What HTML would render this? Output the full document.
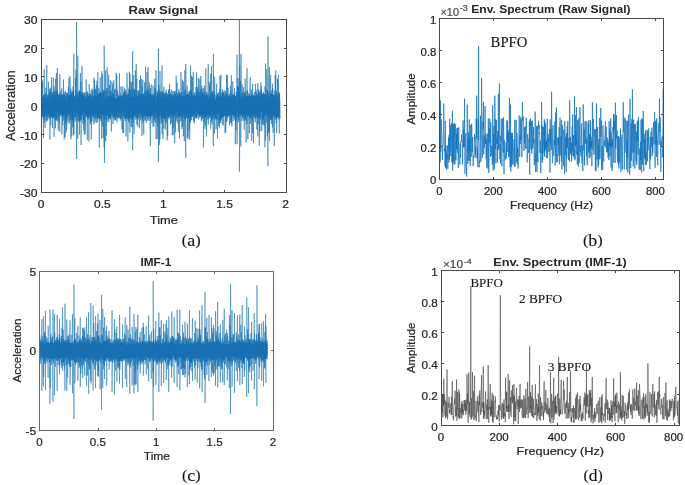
<!DOCTYPE html>
<html><head><meta charset="utf-8"><title>Signal plots</title>
<style>html,body{margin:0;padding:0;background:#fff;}svg{display:block;}</style></head>
<body><svg width="685" height="485" viewBox="0 0 685 485">
<rect width="685" height="485" fill="#ffffff"/>
<clipPath id="ca"><rect x="41.6" y="19.3" width="244.4" height="172.79999999999998"/></clipPath>
<polyline points="41.75,119.85 41.75,81.33 42.05,95.08 42.05,113.91 42.35,116.28 42.35,97.61 42.65,80.54 42.65,116.50 42.95,117.00 42.95,98.05 43.25,96.92 43.25,115.05 43.55,138.24 43.55,94.96 43.85,94.95 43.85,116.90 44.15,122.96 44.15,68.88 44.45,96.56 44.45,119.57 44.75,114.16 44.75,97.19 45.05,92.78 45.05,127.88 45.35,116.03 45.35,93.72 45.65,98.55 45.65,115.78 45.95,116.33 45.95,87.79 46.25,97.75 46.25,115.29 46.55,120.67 46.55,95.57 46.85,65.19 46.85,121.54 47.15,116.72 47.15,102.77 47.45,94.75 47.45,116.64 47.75,120.35 47.75,100.02 48.05,95.31 48.05,113.78 48.35,114.55 48.35,81.61 48.65,92.26 48.65,114.17 48.95,117.96 48.95,95.19 49.25,92.10 49.25,119.03 49.55,116.72 49.55,97.28 49.85,88.58 49.85,139.54 50.15,116.85 50.15,90.39 50.45,92.50 50.45,114.94 50.75,125.41 50.75,87.60 51.05,99.01 51.05,117.03 51.35,117.69 51.35,93.65 51.65,77.20 51.65,115.67 51.95,117.47 51.95,94.97 52.25,92.75 52.25,116.23 52.55,128.04 52.55,95.78 52.85,92.38 52.85,113.46 53.15,117.76 53.15,92.68 53.45,78.02 53.45,118.21 53.75,115.67 53.75,98.32 54.05,86.00 54.05,136.66 54.35,118.74 54.35,94.94 54.65,90.71 54.65,113.59 54.95,119.35 54.95,96.11 55.25,91.36 55.25,115.53 55.55,128.38 55.55,78.99 55.85,90.62 55.85,119.40 56.15,114.84 56.15,93.16 56.45,72.99 56.45,120.46 56.75,112.17 56.75,91.61 57.05,91.34 57.05,114.84 57.35,121.20 57.35,68.07 57.65,94.09 57.65,114.83 57.95,117.72 57.95,98.58 58.25,94.15 58.25,130.44 58.55,117.13 58.55,94.78 58.85,99.13 58.85,117.03 59.15,122.45 59.15,98.06 59.45,93.60 59.45,114.86 59.75,131.70 59.75,74.21 60.05,93.80 60.05,114.30 60.35,116.54 60.35,97.42 60.65,91.50 60.65,112.48 60.95,113.81 60.95,95.06 61.25,94.07 61.25,115.95 61.55,114.11 61.55,97.49 61.85,88.32 61.85,134.32 62.15,115.02 62.15,96.61 62.45,94.48 62.45,118.28 62.75,125.52 62.75,94.58 63.05,95.53 63.05,117.42 63.35,120.65 63.35,79.62 63.65,96.30 63.65,115.73 63.95,114.65 63.95,92.06 64.25,93.61 64.25,139.43 64.55,114.18 64.55,94.48 64.85,98.62 64.85,114.69 65.15,137.26 65.15,93.41 65.45,90.68 65.45,113.43 65.75,124.02 65.75,97.11 66.05,100.33 66.05,132.55 66.35,119.33 66.35,92.52 66.65,95.76 66.65,129.97 66.95,116.73 66.95,94.54 67.25,93.21 67.25,117.64 67.55,115.23 67.55,96.67 67.85,92.85 67.85,121.62 68.15,114.06 68.15,96.28 68.45,86.66 68.45,115.03 68.75,114.35 68.75,88.86 69.05,78.38 69.05,123.66 69.35,115.36 69.35,95.02 69.65,95.53 69.65,117.32 69.95,122.22 69.95,76.18 70.25,91.07 70.25,119.84 70.55,116.71 70.55,96.26 70.85,88.86 70.85,139.31 71.15,120.75 71.15,91.24 71.45,93.77 71.45,112.18 71.75,136.49 71.75,93.10 72.05,94.06 72.05,118.75 72.35,120.48 72.35,92.28 72.65,91.40 72.65,127.31 72.95,122.71 72.95,86.51 73.25,92.49 73.25,121.05 73.55,135.35 73.55,89.93 73.85,53.92 73.85,133.98 74.15,109.49 74.15,96.79 74.45,98.24 74.45,114.64 74.75,117.04 74.75,95.99 75.05,95.67 75.05,118.73 75.35,121.36 75.35,77.98 75.65,90.06 75.65,117.16 75.95,112.85 75.95,69.56 76.25,93.38 76.25,119.50 76.55,158.98 76.55,22.18 76.85,99.65 76.85,110.08 77.15,119.82 77.15,94.83 77.45,93.38 77.45,119.95 77.75,138.73 77.75,55.69 78.05,96.97 78.05,116.92 78.35,110.80 78.35,100.58 78.65,92.48 78.65,121.88 78.95,120.68 78.95,90.61 79.25,95.56 79.25,116.65 79.55,134.75 79.55,90.51 79.85,92.43 79.85,121.25 80.15,121.18 80.15,96.29 80.45,73.03 80.45,119.29 80.75,115.53 80.75,93.91 81.05,81.59 81.05,145.01 81.35,115.50 81.35,91.69 81.65,93.75 81.65,117.09 81.95,119.91 81.95,66.03 82.25,93.11 82.25,112.82 82.55,114.53 82.55,98.73 82.85,93.51 82.85,123.76 83.15,116.55 83.15,92.00 83.45,96.42 83.45,113.46 83.75,130.16 83.75,95.96 84.05,94.46 84.05,118.21 84.35,134.71 84.35,92.93 84.65,98.40 84.65,122.23 84.95,114.34 84.95,96.08 85.25,92.19 85.25,134.12 85.55,112.75 85.55,96.86 85.85,98.38 85.85,114.74 86.15,116.24 86.15,79.50 86.45,98.51 86.45,116.23 86.75,115.48 86.75,95.11 87.05,93.29 87.05,117.20 87.35,139.80 87.35,91.31 87.65,93.59 87.65,117.89 87.95,119.47 87.95,96.07 88.25,93.61 88.25,118.65 88.55,116.78 88.55,95.97 88.85,97.78 88.85,141.43 89.15,114.76 89.15,84.14 89.45,93.29 89.45,117.26 89.75,117.37 89.75,99.37 90.05,93.71 90.05,115.64 90.35,122.88 90.35,94.72 90.65,94.35 90.65,119.18 90.95,124.42 90.95,93.20 91.25,90.25 91.25,139.33 91.55,122.08 91.55,96.36 91.85,98.79 91.85,117.46 92.15,120.96 92.15,88.65 92.45,97.59 92.45,114.23 92.75,114.35 92.75,96.59 93.05,89.68 93.05,115.08 93.35,118.03 93.35,96.08 93.65,98.34 93.65,117.18 93.95,124.45 93.95,77.67 94.25,93.54 94.25,116.24 94.55,116.66 94.55,80.47 94.85,96.54 94.85,122.28 95.15,115.76 95.15,88.63 95.45,89.80 95.45,119.18 95.75,114.49 95.75,95.69 96.05,99.25 96.05,119.17 96.35,123.01 96.35,85.13 96.65,95.26 96.65,115.70 96.95,117.76 96.95,80.68 97.25,94.10 97.25,118.09 97.55,121.90 97.55,95.51 97.85,72.31 97.85,118.41 98.15,115.34 98.15,93.65 98.45,93.90 98.45,118.13 98.75,117.14 98.75,88.34 99.05,92.31 99.05,117.30 99.35,147.46 99.35,94.08 99.65,93.43 99.65,119.94 99.95,114.47 99.95,95.08 100.25,77.43 100.25,118.73 100.55,114.03 100.55,91.71 100.85,93.74 100.85,121.20 101.15,118.13 101.15,92.82 101.45,92.40 101.45,124.73 101.75,138.57 101.75,71.24 102.05,100.20 102.05,110.19 102.35,126.41 102.35,74.64 102.65,92.48 102.65,114.88 102.95,115.30 102.95,91.35 103.25,96.48 103.25,137.92 103.55,121.32 103.55,90.20 103.85,92.65 103.85,118.10 104.15,147.46 104.15,45.57 104.45,75.21 104.45,163.04 104.75,110.71 104.75,101.83 105.05,91.08 105.05,119.81 105.35,115.94 105.35,92.03 105.65,70.33 105.65,141.41 105.95,111.24 105.95,101.06 106.25,92.09 106.25,114.99 106.55,135.52 106.55,88.14 106.85,96.39 106.85,115.52 107.15,121.83 107.15,67.53 107.45,98.20 107.45,115.12 107.75,113.87 107.75,95.70 108.05,88.43 108.05,119.85 108.35,118.81 108.35,99.21 108.65,74.66 108.65,117.75 108.95,121.97 108.95,96.31 109.25,98.60 109.25,118.15 109.55,118.54 109.55,84.95 109.85,85.38 109.85,117.38 110.15,118.97 110.15,91.13 110.45,80.16 110.45,119.45 110.75,115.05 110.75,95.60 111.05,95.99 111.05,113.39 111.35,131.36 111.35,90.90 111.65,97.45 111.65,111.29 111.95,115.59 111.95,81.72 112.25,93.51 112.25,116.86 112.55,113.65 112.55,91.73 112.85,84.19 112.85,124.04 113.15,119.27 113.15,93.91 113.45,94.62 113.45,112.67 113.75,118.90 113.75,80.27 114.05,97.02 114.05,117.24 114.35,114.77 114.35,95.99 114.65,89.59 114.65,120.33 114.95,115.45 114.95,99.39 115.25,88.89 115.25,117.38 115.55,120.42 115.55,98.78 115.85,98.18 115.85,119.81 116.15,116.02 116.15,72.72 116.45,96.63 116.45,116.37 116.75,117.81 116.75,74.98 117.05,97.81 117.05,122.21 117.35,112.44 117.35,90.72 117.65,98.82 117.65,118.31 117.95,116.22 117.95,94.17 118.25,97.56 118.25,114.27 118.55,117.58 118.55,95.92 118.85,96.95 118.85,113.62 119.15,118.28 119.15,95.84 119.45,73.30 119.45,118.10 119.75,113.14 119.75,96.54 120.05,96.50 120.05,114.96 120.35,120.51 120.35,92.76 120.65,95.67 120.65,112.47 120.95,118.98 120.95,86.32 121.25,92.05 121.25,116.77 121.55,118.75 121.55,98.37 121.85,96.01 121.85,129.16 122.15,111.51 122.15,95.26 122.45,96.96 122.45,116.69 122.75,133.11 122.75,86.39 123.05,93.71 123.05,116.61 123.35,115.88 123.35,95.16 123.65,93.56 123.65,132.78 123.95,110.88 123.95,91.75 124.25,91.90 124.25,109.59 124.55,118.10 124.55,88.37 124.85,94.65 124.85,114.14 125.15,119.19 125.15,98.27 125.45,89.73 125.45,120.94 125.75,112.89 125.75,93.74 126.05,91.45 126.05,136.50 126.35,119.10 126.35,94.75 126.65,96.15 126.65,118.07 126.95,114.84 126.95,72.74 127.25,97.64 127.25,119.09 127.55,115.47 127.55,93.99 127.85,94.69 127.85,141.35 128.15,119.40 128.15,97.15 128.45,93.39 128.45,119.63 128.75,120.99 128.75,96.42 129.05,87.45 129.05,118.01 129.35,123.07 129.35,71.70 129.65,89.73 129.65,118.32 129.95,132.76 129.95,73.89 130.25,93.74 130.25,118.89 130.55,110.47 130.55,99.48 130.85,89.76 130.85,116.43 131.15,126.79 131.15,81.91 131.45,97.01 131.45,119.50 131.75,117.94 131.75,96.22 132.05,81.91 132.05,127.59 132.35,116.72 132.35,87.36 132.65,51.26 132.65,150.21 132.95,112.99 132.95,99.25 133.25,97.57 133.25,122.60 133.55,116.76 133.55,75.05 133.85,75.20 133.85,118.96 134.15,134.27 134.15,88.89 134.45,99.93 134.45,115.08 134.75,117.12 134.75,91.05 135.05,97.58 135.05,113.02 135.35,115.17 135.35,70.40 135.65,94.55 135.65,119.66 135.95,116.79 135.95,95.55 136.25,63.94 136.25,118.57 136.55,113.07 136.55,94.68 136.85,78.85 136.85,124.62 137.15,118.12 137.15,90.93 137.45,95.37 137.45,114.22 137.75,126.71 137.75,96.66 138.05,95.98 138.05,119.60 138.35,118.13 138.35,90.00 138.65,92.50 138.65,115.24 138.95,113.61 138.95,94.15 139.25,92.40 139.25,114.73 139.55,128.27 139.55,80.13 139.85,95.22 139.85,112.03 140.15,117.06 140.15,97.51 140.45,75.45 140.45,120.48 140.75,115.07 140.75,97.40 141.05,93.94 141.05,113.09 141.35,117.08 141.35,78.99 141.65,93.25 141.65,118.41 141.95,136.17 141.95,90.19 142.25,86.41 142.25,119.50 142.55,117.04 142.55,94.99 142.85,79.85 142.85,122.82 143.15,118.21 143.15,97.38 143.45,93.81 143.45,115.99 143.75,134.53 143.75,93.70 144.05,94.51 144.05,117.41 144.35,115.03 144.35,95.87 144.65,82.39 144.65,120.58 144.95,114.50 144.95,95.89 145.25,91.73 145.25,113.72 145.55,119.35 145.55,66.62 145.85,95.95 145.85,115.98 146.15,122.78 146.15,89.32 146.45,96.27 146.45,112.92 146.75,116.05 146.75,94.93 147.05,72.13 147.05,120.40 147.35,121.07 147.35,93.53 147.65,86.47 147.65,116.32 147.95,119.42 147.95,67.24 148.25,85.02 148.25,117.91 148.55,114.15 148.55,92.11 148.85,90.08 148.85,116.71 149.15,120.80 149.15,94.46 149.45,82.69 149.45,115.97 149.75,116.74 149.75,94.05 150.05,91.99 150.05,116.63 150.35,146.43 150.35,88.15 150.65,97.25 150.65,119.48 150.95,114.57 150.95,96.18 151.25,84.69 151.25,115.10 151.55,116.23 151.55,94.43 151.85,98.96 151.85,123.37 152.15,122.46 152.15,96.48 152.45,95.21 152.45,116.24 152.75,114.98 152.75,94.10 153.05,85.46 153.05,127.11 153.35,113.86 153.35,94.38 153.65,95.18 153.65,117.19 153.95,126.30 153.95,93.55 154.25,95.84 154.25,119.75 154.55,117.45 154.55,93.47 154.85,78.80 154.85,121.82 155.15,121.51 155.15,88.59 155.45,88.12 155.45,114.52 155.75,122.68 155.75,96.66 156.05,69.99 156.05,139.40 156.35,112.11 156.35,102.26 156.65,96.70 156.65,117.59 156.95,116.68 156.95,90.79 157.25,94.34 157.25,138.98 157.55,120.69 157.55,93.92 157.85,92.34 157.85,126.07 158.15,120.60 158.15,94.03 158.45,48.78 158.45,161.86 158.75,128.90 158.75,84.79 159.05,100.30 159.05,109.09 159.35,145.00 159.35,92.98 159.65,88.99 159.65,116.91 159.95,139.16 159.95,71.14 160.25,98.25 160.25,110.09 160.55,114.87 160.55,92.50 160.85,95.80 160.85,119.46 161.15,123.95 161.15,91.60 161.45,95.10 161.45,119.06 161.75,121.82 161.75,94.59 162.05,65.36 162.05,134.07 162.35,116.24 162.35,91.20 162.65,93.22 162.65,118.03 162.95,138.90 162.95,91.31 163.25,93.41 163.25,116.98 163.55,118.57 163.55,93.72 163.85,86.65 163.85,128.43 164.15,118.20 164.15,96.91 164.45,93.26 164.45,119.34 164.75,117.31 164.75,94.80 165.05,96.87 165.05,114.60 165.35,129.33 165.35,91.84 165.65,95.92 165.65,121.37 165.95,114.88 165.95,91.97 166.25,89.58 166.25,123.36 166.55,115.74 166.55,93.56 166.85,94.72 166.85,115.80 167.15,140.29 167.15,97.92 167.45,94.89 167.45,114.72 167.75,135.99 167.75,92.97 168.05,96.73 168.05,116.59 168.35,114.58 168.35,98.18 168.65,89.38 168.65,119.30 168.95,117.69 168.95,96.07 169.25,89.74 169.25,117.47 169.55,111.24 169.55,83.92 169.85,96.42 169.85,116.48 170.15,115.28 170.15,92.40 170.45,93.82 170.45,124.65 170.75,113.88 170.75,96.44 171.05,94.98 171.05,118.21 171.35,123.03 171.35,89.40 171.65,91.91 171.65,112.73 171.95,118.76 171.95,94.59 172.25,94.86 172.25,135.51 172.55,114.02 172.55,95.10 172.85,91.04 172.85,118.31 173.15,135.06 173.15,99.42 173.45,95.08 173.45,116.92 173.75,127.82 173.75,91.23 174.05,97.58 174.05,115.02 174.35,116.12 174.35,98.67 174.65,90.93 174.65,143.31 174.95,113.20 174.95,98.60 175.25,93.96 175.25,132.26 175.55,120.50 175.55,91.60 175.85,94.64 175.85,119.89 176.15,120.89 176.15,75.56 176.45,98.03 176.45,113.34 176.75,118.85 176.75,90.24 177.05,82.47 177.05,112.07 177.35,123.10 177.35,99.40 177.65,92.99 177.65,115.00 177.95,116.95 177.95,96.26 178.25,98.82 178.25,123.16 178.55,131.62 178.55,95.43 178.85,88.73 178.85,115.45 179.15,116.39 179.15,91.54 179.45,93.33 179.45,138.23 179.75,117.31 179.75,95.27 180.05,95.28 180.05,121.44 180.35,118.20 180.35,93.05 180.65,95.45 180.65,115.69 180.95,114.46 180.95,71.85 181.25,93.14 181.25,116.36 181.55,120.75 181.55,91.98 181.85,95.33 181.85,129.05 182.15,114.62 182.15,96.59 182.45,79.84 182.45,126.64 182.75,125.66 182.75,96.48 183.05,95.68 183.05,114.49 183.35,136.19 183.35,81.59 183.65,102.96 183.65,110.92 183.95,118.00 183.95,91.72 184.25,91.67 184.25,141.12 184.55,116.88 184.55,96.10 184.85,70.13 184.85,119.15 185.15,120.26 185.15,89.54 185.45,95.62 185.45,118.72 185.75,157.80 185.75,63.94 186.05,96.64 186.05,118.33 186.35,114.14 186.35,96.84 186.65,94.10 186.65,117.97 186.95,114.73 186.95,90.01 187.25,85.59 187.25,138.73 187.55,108.61 187.55,102.03 187.85,94.19 187.85,116.99 188.15,138.12 188.15,91.47 188.45,94.31 188.45,118.91 188.75,117.60 188.75,95.31 189.05,96.39 189.05,130.93 189.35,117.09 189.35,91.70 189.65,94.91 189.65,139.91 189.95,121.66 189.95,90.26 190.25,93.40 190.25,121.17 190.55,122.36 190.55,65.49 190.85,89.94 190.85,117.32 191.15,116.24 191.15,97.55 191.45,75.71 191.45,119.91 191.75,117.23 191.75,92.82 192.05,98.27 192.05,114.78 192.35,116.87 192.35,76.90 192.65,93.01 192.65,114.93 192.95,116.14 192.95,96.43 193.25,71.81 193.25,120.50 193.55,117.42 193.55,95.75 193.85,95.23 193.85,115.03 194.15,123.33 194.15,92.67 194.45,94.39 194.45,121.87 194.75,111.83 194.75,94.05 195.05,92.05 195.05,112.18 195.35,117.69 195.35,99.08 195.65,96.44 195.65,115.73 195.95,117.51 195.95,87.23 196.25,92.20 196.25,118.67 196.55,117.95 196.55,72.33 196.85,96.56 196.85,112.77 197.15,118.02 197.15,91.10 197.45,87.20 197.45,115.59 197.75,114.15 197.75,90.28 198.05,92.08 198.05,113.27 198.35,113.03 198.35,77.97 198.65,97.81 198.65,118.25 198.95,119.45 198.95,96.48 199.25,92.44 199.25,115.85 199.55,116.37 199.55,89.84 199.85,79.02 199.85,117.15 200.15,114.55 200.15,95.31 200.45,89.68 200.45,116.29 200.75,115.06 200.75,75.99 201.05,92.56 201.05,115.28 201.35,121.21 201.35,96.25 201.65,85.84 201.65,120.40 201.95,114.97 201.95,88.76 202.25,91.25 202.25,118.51 202.55,115.22 202.55,95.18 202.85,93.32 202.85,118.71 203.15,114.09 203.15,88.07 203.45,88.73 203.45,147.46 203.75,116.49 203.75,97.21 204.05,94.13 204.05,122.18 204.35,117.93 204.35,85.70 204.65,94.73 204.65,113.50 204.95,128.69 204.95,91.42 205.25,97.46 205.25,117.71 205.55,116.96 205.55,95.83 205.85,68.47 205.85,125.89 206.15,115.52 206.15,95.85 206.45,93.66 206.45,136.46 206.75,114.84 206.75,92.08 207.05,93.87 207.05,117.47 207.35,117.37 207.35,94.91 207.65,96.12 207.65,113.66 207.95,119.80 207.95,90.30 208.25,63.94 208.25,124.48 208.55,115.34 208.55,94.67 208.85,97.90 208.85,114.95 209.15,118.45 209.15,81.89 209.45,92.13 209.45,117.67 209.75,118.50 209.75,96.32 210.05,84.49 210.05,116.51 210.35,116.57 210.35,92.40 210.65,73.73 210.65,128.59 210.95,117.60 210.95,93.50 211.25,99.35 211.25,108.79 211.55,121.62 211.55,66.32 211.85,93.31 211.85,117.10 212.15,124.33 212.15,94.44 212.45,91.11 212.45,117.60 212.75,119.47 212.75,91.39 213.05,95.08 213.05,117.82 213.35,146.02 213.35,53.86 213.65,98.08 213.65,109.89 213.95,115.11 213.95,94.21 214.25,92.09 214.25,133.94 214.55,128.63 214.55,76.78 214.85,91.23 214.85,119.76 215.15,115.87 215.15,99.63 215.45,100.55 215.45,118.45 215.75,115.45 215.75,95.20 216.05,97.79 216.05,129.30 216.35,121.54 216.35,90.09 216.65,83.76 216.65,112.31 216.95,119.34 216.95,95.45 217.25,94.41 217.25,122.96 217.55,138.76 217.55,96.02 217.85,92.77 217.85,116.81 218.15,113.69 218.15,95.76 218.45,92.56 218.45,126.04 218.75,120.71 218.75,97.40 219.05,98.48 219.05,113.58 219.35,128.20 219.35,94.87 219.65,89.27 219.65,120.06 219.95,123.19 219.95,75.99 220.25,95.23 220.25,122.67 220.55,113.81 220.55,96.56 220.85,74.53 220.85,120.63 221.15,118.38 221.15,96.81 221.45,96.60 221.45,119.03 221.75,115.71 221.75,92.46 222.05,94.56 222.05,119.53 222.35,124.27 222.35,89.28 222.65,94.38 222.65,117.06 222.95,114.92 222.95,92.91 223.25,91.87 223.25,125.72 223.55,117.40 223.55,92.42 223.85,96.49 223.85,116.31 224.15,114.10 224.15,90.41 224.45,91.80 224.45,116.16 224.75,115.83 224.75,97.28 225.05,93.83 225.05,133.04 225.35,113.96 225.35,90.78 225.65,92.78 225.65,132.56 225.95,119.07 225.95,95.11 226.25,95.82 226.25,119.29 226.55,122.29 226.55,74.60 226.85,92.71 226.85,120.88 227.15,117.67 227.15,98.27 227.45,75.13 227.45,115.96 227.75,115.09 227.75,99.09 228.05,87.84 228.05,115.74 228.35,115.51 228.35,97.98 228.65,95.92 228.65,115.94 228.95,116.98 228.95,95.08 229.25,97.21 229.25,117.30 229.55,125.19 229.55,93.68 229.85,95.51 229.85,114.39 230.15,114.46 230.15,99.60 230.45,86.04 230.45,116.92 230.75,122.98 230.75,91.15 231.05,95.61 231.05,110.72 231.35,123.23 231.35,75.23 231.65,96.08 231.65,118.38 231.95,126.20 231.95,96.67 232.25,96.30 232.25,110.89 232.55,114.75 232.55,96.85 232.85,81.27 232.85,121.09 233.15,120.27 233.15,94.89 233.45,93.94 233.45,114.50 233.75,117.33 233.75,95.69 234.05,94.88 234.05,111.42 234.35,114.98 234.35,88.29 234.65,88.44 234.65,118.37 234.95,120.60 234.95,96.88 235.25,99.25 235.25,144.28 235.55,118.81 235.55,95.88 235.85,95.72 235.85,118.79 236.15,130.07 236.15,91.82 236.45,95.29 236.45,117.72 236.75,120.56 236.75,87.46 237.05,54.62 237.05,143.80 237.35,109.71 237.35,102.28 237.65,85.97 237.65,112.17 237.95,116.57 237.95,78.19 238.25,98.52 238.25,122.22 238.55,119.99 238.55,87.65 238.85,85.87 238.85,119.71 239.15,114.13 239.15,90.72 239.45,19.30 239.45,171.66 239.75,139.71 239.75,65.51 240.05,102.39 240.05,109.56 240.35,115.79 240.35,93.21 240.65,81.25 240.65,142.98 240.95,146.37 240.95,53.86 241.25,100.35 241.25,112.72 241.55,113.31 241.55,93.04 241.85,101.50 241.85,121.21 242.15,117.03 242.15,84.40 242.45,97.28 242.45,115.76 242.75,118.19 242.75,96.00 243.05,91.35 243.05,116.93 243.35,114.82 243.35,96.46 243.65,87.16 243.65,120.76 243.95,117.54 243.95,98.27 244.25,92.56 244.25,129.61 244.55,114.07 244.55,95.56 244.85,92.62 244.85,118.08 245.15,119.72 245.15,78.64 245.45,93.86 245.45,120.66 245.75,119.78 245.75,96.45 246.05,90.94 246.05,142.38 246.35,114.77 246.35,98.33 246.65,95.97 246.65,113.61 246.95,123.96 246.95,68.37 247.25,95.57 247.25,115.57 247.55,116.98 247.55,90.22 247.85,94.70 247.85,139.24 248.15,113.19 248.15,96.03 248.45,95.69 248.45,114.73 248.75,115.97 248.75,96.33 249.05,93.03 249.05,116.65 249.35,133.22 249.35,94.46 249.65,96.64 249.65,118.25 249.95,113.43 249.95,89.20 250.25,77.19 250.25,123.99 250.55,117.73 250.55,96.68 250.85,96.29 250.85,115.89 251.15,118.38 251.15,89.39 251.45,91.06 251.45,116.01 251.75,140.78 251.75,93.46 252.05,93.23 252.05,120.75 252.35,115.52 252.35,94.92 252.65,83.91 252.65,133.29 252.95,115.47 252.95,95.31 253.25,95.42 253.25,114.38 253.55,143.14 253.55,95.53 253.85,95.46 253.85,113.89 254.15,116.36 254.15,96.93 254.45,92.09 254.45,111.68 254.75,117.62 254.75,97.55 255.05,95.42 255.05,117.66 255.35,122.37 255.35,83.88 255.65,91.31 255.65,118.84 255.95,117.77 255.95,97.26 256.25,90.23 256.25,111.89 256.55,116.31 256.55,94.38 256.85,93.34 256.85,129.45 257.15,113.22 257.15,95.03 257.45,96.36 257.45,117.16 257.75,136.43 257.75,83.19 258.05,93.68 258.05,118.43 258.35,124.29 258.35,89.39 258.65,95.03 258.65,115.36 258.95,115.96 258.95,95.58 259.25,93.16 259.25,145.77 259.55,121.03 259.55,93.37 259.85,92.11 259.85,131.64 260.15,120.59 260.15,89.92 260.45,98.55 260.45,113.23 260.75,119.45 260.75,82.44 261.05,99.07 261.05,111.96 261.35,111.06 261.35,92.69 261.65,86.34 261.65,131.06 261.95,116.84 261.95,98.56 262.25,94.55 262.25,118.10 262.55,124.35 262.55,94.31 262.85,93.50 262.85,120.08 263.15,125.09 263.15,95.87 263.45,91.82 263.45,119.81 263.75,116.26 263.75,94.01 264.05,94.45 264.05,125.35 264.35,116.80 264.35,94.15 264.65,94.50 264.65,115.62 264.95,147.46 264.95,86.54 265.25,94.08 265.25,116.01 265.55,140.38 265.55,63.53 265.85,100.40 265.85,110.47 266.15,113.75 266.15,97.64 266.45,93.95 266.45,121.24 266.75,122.73 266.75,69.03 267.05,89.52 267.05,114.81 267.35,136.43 267.35,90.06 267.65,95.58 267.65,116.84 267.95,166.18 267.95,36.58 268.25,81.33 268.25,133.03 268.55,108.37 268.55,102.09 268.85,92.15 268.85,122.18 269.15,132.13 269.15,97.09 269.45,67.37 269.45,141.17 269.75,111.10 269.75,101.73 270.05,92.50 270.05,117.03 270.35,119.34 270.35,91.94 270.65,74.73 270.65,112.98 270.95,119.96 270.95,95.67 271.25,93.72 271.25,121.33 271.55,124.09 271.55,90.50 271.85,93.03 271.85,118.97 272.15,118.53 272.15,93.75 272.45,83.70 272.45,127.52 272.75,116.16 272.75,88.29 273.05,92.75 273.05,132.68 273.35,126.60 273.35,94.76 273.65,96.48 273.65,115.66 273.95,114.00 273.95,96.66 274.25,94.90 274.25,146.03 274.55,117.77 274.55,90.95 274.85,95.89 274.85,115.00 275.15,119.53 275.15,75.14 275.45,99.06 275.45,114.22 275.75,118.08 275.75,70.33 276.05,95.74 276.05,123.24 276.35,113.16 276.35,93.83 276.65,93.81 276.65,133.13 276.95,118.48 276.95,90.55 277.25,98.20 277.25,117.49 277.55,117.52 277.55,78.60 277.85,96.33 277.85,115.24 278.15,116.59 278.15,94.96 278.45,74.89 278.45,119.33 278.75,117.36 278.75,91.36 279.05,93.80 279.05,117.52 279.35,133.41 279.35,96.80 279.65,93.13 279.65,110.58 279.95,118.79 279.95,100.71" fill="none" stroke="#1670b1" stroke-width="0.55" stroke-linejoin="round" clip-path="url(#ca)"/>
<polygon points="41.60,97.61 42.60,97.61 42.60,96.92 43.60,96.92 43.60,95.73 44.60,95.73 44.60,97.19 45.60,97.19 45.60,97.75 46.60,97.75 46.60,98.32 47.60,98.32 47.60,99.69 48.60,99.69 48.60,95.19 49.60,95.19 49.60,92.50 50.60,92.50 50.60,99.01 51.60,99.01 51.60,94.97 52.60,94.97 52.60,92.68 53.60,92.68 53.60,94.94 54.60,94.94 54.60,96.60 55.60,96.60 55.60,90.62 56.60,90.62 56.60,91.61 57.60,91.61 57.60,94.78 58.60,94.78 58.60,98.06 59.60,98.06 59.60,96.49 60.60,96.49 60.60,95.06 61.60,95.06 61.60,96.61 62.60,96.61 62.60,95.53 63.60,95.53 63.60,94.48 64.60,94.48 64.60,95.28 65.60,95.28 65.60,100.33 66.60,100.33 66.60,95.76 67.60,95.76 67.60,96.28 68.60,96.28 68.60,95.02 69.60,95.02 69.60,95.53 70.60,95.53 70.60,93.77 71.60,93.77 71.60,94.06 72.60,94.06 72.60,91.40 73.60,91.40 73.60,98.24 74.60,98.24 74.60,95.67 75.60,95.67 75.60,90.06 76.60,90.06 76.60,99.65 77.60,99.65 77.60,96.97 78.60,96.97 78.60,92.48 79.60,92.48 79.60,92.43 80.60,92.43 80.60,93.91 81.60,93.91 81.60,93.75 82.60,93.75 82.60,96.42 83.60,96.42 83.60,95.96 84.60,95.96 84.60,98.40 85.60,98.40 85.60,98.38 86.60,98.38 86.60,94.41 87.60,94.41 87.60,96.07 88.60,96.07 88.60,95.97 89.60,95.97 89.60,96.03 90.60,96.03 90.60,94.35 91.60,94.35 91.60,98.79 92.60,98.79 92.60,96.59 93.60,96.59 93.60,96.40 94.60,96.40 94.60,89.80 95.60,89.80 95.60,95.69 96.60,95.69 96.60,95.78 97.60,95.78 97.60,93.90 98.60,93.90 98.60,94.08 99.60,94.08 99.60,93.43 100.60,93.43 100.60,93.28 101.60,93.28 101.60,99.56 102.60,99.56 102.60,93.61 103.60,93.61 103.60,90.20 104.60,90.20 104.60,98.33 105.60,98.33 105.60,96.91 106.60,96.91 106.60,96.39 107.60,96.39 107.60,99.21 108.60,99.21 108.60,96.31 109.60,96.31 109.60,91.13 110.60,91.13 110.60,95.99 111.60,95.99 111.60,93.51 112.60,93.51 112.60,94.62 113.60,94.62 113.60,95.99 114.60,95.99 114.60,98.78 115.60,98.78 115.60,98.18 116.60,98.18 116.60,97.81 117.60,97.81 117.60,97.56 118.60,97.56 118.60,96.95 119.60,96.95 119.60,96.54 120.60,96.54 120.60,95.67 121.60,95.67 121.60,96.96 122.60,96.96 122.60,95.16 123.60,95.16 123.60,91.90 124.60,91.90 124.60,98.27 125.60,98.27 125.60,94.75 126.60,94.75 126.60,96.15 127.60,96.15 127.60,97.15 128.60,97.15 128.60,89.73 129.60,89.73 129.60,93.88 130.60,93.88 130.60,97.01 131.60,97.01 131.60,92.64 132.60,92.64 132.60,97.57 133.60,97.57 133.60,88.89 134.60,88.89 134.60,94.55 135.60,94.55 135.60,94.79 136.60,94.79 136.60,95.37 137.60,95.37 137.60,96.66 138.60,96.66 138.60,92.50 139.60,92.50 139.60,95.22 140.60,95.22 140.60,93.94 141.60,93.94 141.60,93.79 142.60,93.79 142.60,94.99 143.60,94.99 143.60,95.87 144.60,95.87 144.60,91.73 145.60,91.73 145.60,96.27 146.60,96.27 146.60,93.53 147.60,93.53 147.60,92.11 148.60,92.11 148.60,94.46 149.60,94.46 149.60,94.05 150.60,94.05 150.60,97.25 151.60,97.25 151.60,96.48 152.60,96.48 152.60,94.38 153.60,94.38 153.60,95.84 154.60,95.84 154.60,88.59 155.60,88.59 155.60,101.63 156.60,101.63 156.60,94.34 157.60,94.34 157.60,94.03 158.60,94.03 158.60,92.98 159.60,92.98 159.60,98.25 160.60,98.25 160.60,95.10 161.60,95.10 161.60,93.22 162.60,93.22 162.60,93.72 163.60,93.72 163.60,96.91 164.60,96.91 164.60,96.87 165.60,96.87 165.60,93.56 166.60,93.56 166.60,97.92 167.60,97.92 167.60,96.73 168.60,96.73 168.60,95.04 169.60,95.04 169.60,93.82 170.60,93.82 170.60,96.44 171.60,96.44 171.60,94.86 172.60,94.86 172.60,99.42 173.60,99.42 173.60,97.58 174.60,97.58 174.60,93.96 175.60,93.96 175.60,95.11 176.60,95.11 176.60,96.93 177.60,96.93 177.60,96.26 178.60,96.26 178.60,93.33 179.60,93.33 179.60,95.28 180.60,95.28 180.60,93.14 181.60,93.14 181.60,96.01 182.60,96.01 182.60,96.48 183.60,96.48 183.60,96.10 184.60,96.10 184.60,95.62 185.60,95.62 185.60,96.64 186.60,96.64 186.60,94.10 187.60,94.10 187.60,94.31 188.60,94.31 188.60,95.31 189.60,95.31 189.60,96.99 190.60,96.99 190.60,89.94 191.60,89.94 191.60,97.33 192.60,97.33 192.60,95.75 193.60,95.75 193.60,95.23 194.60,95.23 194.60,96.44 195.60,96.44 195.60,95.05 196.60,95.05 196.60,91.10 197.60,91.10 197.60,92.08 198.60,92.08 198.60,96.48 199.60,96.48 199.60,95.31 200.60,95.31 200.60,96.25 201.60,96.25 201.60,91.25 202.60,91.25 202.60,93.32 203.60,93.32 203.60,97.21 204.60,97.21 204.60,95.83 205.60,95.83 205.60,95.85 206.60,95.85 206.60,94.91 207.60,94.91 207.60,94.67 208.60,94.67 208.60,97.90 209.60,97.90 209.60,96.32 210.60,96.32 210.60,99.08 211.60,99.08 211.60,93.31 212.60,93.31 212.60,95.08 213.60,95.08 213.60,94.21 214.60,94.21 214.60,99.63 215.60,99.63 215.60,97.79 216.60,97.79 216.60,95.45 217.60,95.45 217.60,95.76 218.60,95.76 218.60,97.40 219.60,97.40 219.60,95.23 220.60,95.23 220.60,96.81 221.60,96.81 221.60,94.56 222.60,94.56 222.60,92.91 223.60,92.91 223.60,96.49 224.60,96.49 224.60,97.28 225.60,97.28 225.60,95.82 226.60,95.82 226.60,92.71 227.60,92.71 227.60,99.07 228.60,99.07 228.60,95.92 229.60,95.92 229.60,96.64 230.60,96.64 230.60,95.61 231.60,95.61 231.60,96.67 232.60,96.67 232.60,94.89 233.60,94.89 233.60,94.88 234.60,94.88 234.60,96.88 235.60,96.88 235.60,95.72 236.60,95.72 236.60,102.28 237.60,102.28 237.60,87.65 238.60,87.65 238.60,90.72 239.60,90.72 239.60,96.66 240.60,96.66 240.60,100.34 241.60,100.34 241.60,97.28 242.60,97.28 242.60,96.00 243.60,96.00 243.60,98.27 244.60,98.27 244.60,93.86 245.60,93.86 245.60,96.45 246.60,96.45 246.60,95.97 247.60,95.97 247.60,95.69 248.60,95.69 248.60,96.33 249.60,96.33 249.60,96.64 250.60,96.64 250.60,96.29 251.60,96.29 251.60,94.92 252.60,94.92 252.60,95.42 253.60,95.42 253.60,95.53 254.60,95.53 254.60,96.91 255.60,96.91 255.60,94.38 256.60,94.38 256.60,96.36 257.60,96.36 257.60,93.68 258.60,93.68 258.60,95.58 259.60,95.58 259.60,98.55 260.60,98.55 260.60,92.69 261.60,92.69 261.60,94.58 262.60,94.58 262.60,95.87 263.60,95.87 263.60,94.45 264.60,94.45 264.60,94.08 265.60,94.08 265.60,100.08 266.60,100.08 266.60,90.06 267.60,90.06 267.60,95.58 268.60,95.58 268.60,97.09 269.60,97.09 269.60,95.87 270.60,95.87 270.60,93.72 271.60,93.72 271.60,93.75 272.60,93.75 272.60,94.76 273.60,94.76 273.60,96.66 274.60,96.66 274.60,97.49 275.60,97.49 275.60,93.83 276.60,93.83 276.60,98.20 277.60,98.20 277.60,94.96 278.60,94.96 278.60,93.80 279.60,93.80 279.60,100.71 279.88,100.71 279.88,110.58 279.60,110.58 279.60,117.36 278.60,117.36 278.60,116.59 277.60,116.59 277.60,117.49 276.60,117.49 276.60,118.08 275.60,118.08 275.60,114.22 274.60,114.22 274.60,115.66 273.60,115.66 273.60,116.16 272.60,116.16 272.60,118.53 271.60,118.53 271.60,119.96 270.60,119.96 270.60,112.94 269.60,112.94 269.60,122.18 268.60,122.18 268.60,116.84 267.60,116.84 267.60,114.81 266.60,114.81 266.60,113.75 265.60,113.75 265.60,116.01 264.60,116.01 264.60,116.26 263.60,116.26 263.60,119.81 262.60,119.81 262.60,118.10 261.60,118.10 261.60,111.96 260.60,111.96 260.60,118.32 259.60,118.32 259.60,115.96 258.60,115.96 258.60,118.43 257.60,118.43 257.60,116.31 256.60,116.31 256.60,113.51 255.60,113.51 255.60,117.62 254.60,117.62 254.60,113.89 253.60,113.89 253.60,115.47 252.60,115.47 252.60,115.52 251.60,115.52 251.60,115.89 250.60,115.89 250.60,117.73 249.60,117.73 249.60,116.65 248.60,116.65 248.60,114.73 247.60,114.73 247.60,115.57 246.60,115.57 246.60,114.77 245.60,114.77 245.60,118.08 244.60,118.08 244.60,114.70 243.60,114.70 243.60,116.93 242.60,116.93 242.60,115.76 241.60,115.76 241.60,112.72 240.60,112.72 240.60,115.79 239.60,115.79 239.60,114.13 238.60,114.13 238.60,116.57 237.60,116.57 237.60,109.71 236.60,109.71 236.60,117.72 235.60,117.72 235.60,118.81 234.60,118.81 234.60,114.98 233.60,114.98 233.60,114.63 232.60,114.63 232.60,114.75 231.60,114.75 231.60,118.38 230.60,118.38 230.60,114.46 229.60,114.46 229.60,115.94 228.60,115.94 228.60,115.09 227.60,115.09 227.60,117.67 226.60,117.67 226.60,119.07 225.60,119.07 225.60,113.96 224.60,113.96 224.60,116.16 223.60,116.16 223.60,116.97 222.60,116.97 222.60,117.06 221.60,117.06 221.60,118.38 220.60,118.38 220.60,120.06 219.60,120.06 219.60,113.58 218.60,113.58 218.60,113.69 217.60,113.69 217.60,119.34 216.60,119.34 216.60,115.45 215.60,115.45 215.60,118.45 214.60,118.45 214.60,115.11 213.60,115.11 213.60,117.82 212.60,117.82 212.60,117.60 211.60,117.60 211.60,115.76 210.60,115.76 210.60,116.51 209.60,116.51 209.60,114.95 208.60,114.95 208.60,115.34 207.60,115.34 207.60,114.84 206.60,114.84 206.60,116.96 205.60,116.96 205.60,115.02 204.60,115.02 204.60,116.49 203.60,116.49 203.60,114.09 202.60,114.09 202.60,115.22 201.60,115.22 201.60,115.06 200.60,115.06 200.60,114.55 199.60,114.55 199.60,116.37 198.60,116.37 198.60,113.27 197.60,113.27 197.60,114.05 196.60,114.05 196.60,117.51 195.60,117.51 195.60,111.83 194.60,111.83 194.60,115.03 193.60,115.03 193.60,116.14 192.60,116.14 192.60,114.93 191.60,114.93 191.60,117.32 190.60,117.32 190.60,121.17 189.60,121.17 189.60,117.60 188.60,117.60 188.60,116.99 187.60,116.99 187.60,114.73 186.60,114.73 186.60,114.81 185.60,114.81 185.60,118.72 184.60,118.72 184.60,114.56 183.60,114.56 183.60,114.49 182.60,114.49 182.60,117.00 181.60,117.00 181.60,115.69 180.60,115.69 180.60,117.31 179.60,117.31 179.60,116.39 178.60,116.39 178.60,116.95 177.60,116.95 177.60,112.07 176.60,112.07 176.60,113.34 175.60,113.34 175.60,113.87 174.60,113.87 174.60,116.12 173.60,116.12 173.60,116.92 172.60,116.92 172.60,114.02 171.60,114.02 171.60,113.88 170.60,113.88 170.60,115.28 169.60,115.28 169.60,116.50 168.60,116.50 168.60,116.59 167.60,116.59 167.60,115.74 166.60,115.74 166.60,114.88 165.60,114.88 165.60,117.31 164.60,117.31 164.60,118.20 163.60,118.20 163.60,118.03 162.60,118.03 162.60,116.24 161.60,116.24 161.60,119.06 160.60,119.06 160.60,114.87 159.60,114.87 159.60,116.89 158.60,116.89 158.60,120.60 157.60,120.60 157.60,117.59 156.60,117.59 156.60,112.11 155.60,112.11 155.60,117.45 154.60,117.45 154.60,117.19 153.60,117.19 153.60,113.86 152.60,113.86 152.60,116.24 151.60,116.24 151.60,114.57 150.60,114.57 150.60,116.74 149.60,116.74 149.60,115.97 148.60,115.97 148.60,116.32 147.60,116.32 147.60,116.05 146.60,116.05 146.60,115.98 145.60,115.98 145.60,114.50 144.60,114.50 144.60,115.03 143.60,115.03 143.60,115.99 142.60,115.99 142.60,118.41 141.60,118.41 141.60,113.09 140.60,113.09 140.60,113.42 139.60,113.42 139.60,114.73 138.60,114.73 138.60,118.13 137.60,118.13 137.60,114.22 136.60,114.22 136.60,116.79 135.60,116.79 135.60,113.42 134.60,113.42 134.60,116.41 133.60,116.41 133.60,116.76 132.60,116.76 132.60,117.94 131.60,117.94 131.60,116.43 130.60,116.43 130.60,117.83 129.60,117.83 129.60,118.32 128.60,118.32 128.60,119.40 127.60,119.40 127.60,115.47 126.60,115.47 126.60,118.07 125.60,118.07 125.60,118.10 124.60,118.10 124.60,110.88 123.60,110.88 123.60,115.88 122.60,115.88 122.60,111.51 121.60,111.51 121.60,116.77 120.60,116.77 120.60,113.14 119.60,113.14 119.60,113.62 118.60,113.62 118.60,116.22 117.60,116.22 117.60,112.44 116.60,112.44 116.60,116.02 115.60,116.02 115.60,115.45 114.60,115.45 114.60,117.24 113.60,117.24 113.60,112.67 112.60,112.67 112.60,113.65 111.60,113.65 111.60,113.39 110.60,113.39 110.60,117.38 109.60,117.38 109.60,118.15 108.60,118.15 108.60,117.28 107.60,117.28 107.60,115.52 106.60,115.52 106.60,114.99 105.60,114.99 105.60,115.94 104.60,115.94 104.60,118.10 103.60,118.10 103.60,115.30 102.60,115.30 102.60,114.37 101.60,114.37 101.60,118.13 100.60,118.13 100.60,113.38 99.60,113.38 99.60,117.30 98.60,117.30 98.60,118.13 97.60,118.13 97.60,117.76 96.60,117.76 96.60,114.49 95.60,114.49 95.60,115.76 94.60,115.76 94.60,116.66 93.60,116.66 93.60,114.35 92.60,114.35 92.60,116.55 91.60,116.55 91.60,122.08 90.60,122.08 90.60,117.37 89.60,117.37 89.60,114.76 88.60,114.76 88.60,117.72 87.60,117.72 87.60,117.20 86.60,117.20 86.60,114.74 85.60,114.74 85.60,114.34 84.60,114.34 84.60,118.21 83.60,118.21 83.60,113.46 82.60,113.46 82.60,114.53 81.60,114.53 81.60,115.50 80.60,115.50 80.60,121.18 79.60,121.18 79.60,120.68 78.60,120.68 78.60,113.71 77.60,113.71 77.60,112.66 76.60,112.66 76.60,113.53 75.60,113.53 75.60,117.16 74.60,117.16 74.60,109.49 73.60,109.49 73.60,122.71 72.60,122.71 72.60,118.75 71.60,118.75 71.60,112.18 70.60,112.18 70.60,117.32 69.60,117.32 69.60,114.35 68.60,114.35 68.60,114.06 67.60,114.06 67.60,116.73 66.60,116.73 66.60,119.33 65.60,119.33 65.60,114.18 64.60,114.18 64.60,114.65 63.60,114.65 63.60,117.42 62.60,117.42 62.60,115.02 61.60,115.02 61.60,113.81 60.60,113.81 60.60,114.30 59.60,114.30 59.60,114.86 58.60,114.86 58.60,117.13 57.60,117.13 57.60,112.17 56.60,112.17 56.60,119.40 55.60,119.40 55.60,115.16 54.60,115.16 54.60,115.67 53.60,115.67 53.60,116.98 52.60,116.98 52.60,116.23 51.60,116.23 51.60,117.03 50.60,117.03 50.60,114.94 49.60,114.94 49.60,116.72 48.60,116.72 48.60,113.78 47.60,113.78 47.60,116.72 46.60,116.72 46.60,115.44 45.60,115.44 45.60,114.16 44.60,114.16 44.60,116.90 43.60,116.90 43.60,116.50 42.60,116.50 42.60,114.66 41.60,114.66" fill="#1670b1" clip-path="url(#ca)"/>
<rect x="41.5" y="19.5" width="245.0" height="173.0" fill="none" stroke="#4a4a4a" stroke-width="1"/>
<path d="M41.5 192.5v-2.6M41.5 19.5v2.6M102.5 192.5v-2.6M102.5 19.5v2.6M163.5 192.5v-2.6M163.5 19.5v2.6M224.5 192.5v-2.6M224.5 19.5v2.6M286.5 192.5v-2.6M286.5 19.5v2.6M41.5 19.5h2.6M286.5 19.5h-2.6M41.5 48.5h2.6M286.5 48.5h-2.6M41.5 76.5h2.6M286.5 76.5h-2.6M41.5 105.5h2.6M286.5 105.5h-2.6M41.5 134.5h2.6M286.5 134.5h-2.6M41.5 163.5h2.6M286.5 163.5h-2.6M41.5 192.5h2.6M286.5 192.5h-2.6" stroke="#4a4a4a" stroke-width="1" fill="none"/>
<text transform="translate(23.93,24.30) scale(1.22,1)" font-family='"Liberation Sans", Arial, Helvetica, sans-serif' font-size="10" font-weight="normal" text-anchor="start" fill="#262626" stroke="#262626" stroke-width="0.22">30</text>
<text transform="translate(23.93,53.10) scale(1.22,1)" font-family='"Liberation Sans", Arial, Helvetica, sans-serif' font-size="10" font-weight="normal" text-anchor="start" fill="#262626" stroke="#262626" stroke-width="0.22">20</text>
<text transform="translate(23.93,81.90) scale(1.22,1)" font-family='"Liberation Sans", Arial, Helvetica, sans-serif' font-size="10" font-weight="normal" text-anchor="start" fill="#262626" stroke="#262626" stroke-width="0.22">10</text>
<text transform="translate(30.71,110.70) scale(1.22,1)" font-family='"Liberation Sans", Arial, Helvetica, sans-serif' font-size="10" font-weight="normal" text-anchor="start" fill="#262626" stroke="#262626" stroke-width="0.22">0</text>
<text transform="translate(19.89,139.50) scale(1.22,1)" font-family='"Liberation Sans", Arial, Helvetica, sans-serif' font-size="10" font-weight="normal" text-anchor="start" fill="#262626" stroke="#262626" stroke-width="0.22">-10</text>
<text transform="translate(19.89,168.30) scale(1.22,1)" font-family='"Liberation Sans", Arial, Helvetica, sans-serif' font-size="10" font-weight="normal" text-anchor="start" fill="#262626" stroke="#262626" stroke-width="0.22">-20</text>
<text transform="translate(19.89,197.10) scale(1.22,1)" font-family='"Liberation Sans", Arial, Helvetica, sans-serif' font-size="10" font-weight="normal" text-anchor="start" fill="#262626" stroke="#262626" stroke-width="0.22">-30</text>
<text transform="translate(37.86,208.00) scale(1.2,1)" font-family='"Liberation Sans", Arial, Helvetica, sans-serif' font-size="10" font-weight="normal" text-anchor="start" fill="#262626" stroke="#262626" stroke-width="0.22">0</text>
<text transform="translate(93.97,208.00) scale(1.2,1)" font-family='"Liberation Sans", Arial, Helvetica, sans-serif' font-size="10" font-weight="normal" text-anchor="start" fill="#262626" stroke="#262626" stroke-width="0.22">0.5</text>
<text transform="translate(160.06,208.00) scale(1.2,1)" font-family='"Liberation Sans", Arial, Helvetica, sans-serif' font-size="10" font-weight="normal" text-anchor="start" fill="#262626" stroke="#262626" stroke-width="0.22">1</text>
<text transform="translate(216.18,208.00) scale(1.2,1)" font-family='"Liberation Sans", Arial, Helvetica, sans-serif' font-size="10" font-weight="normal" text-anchor="start" fill="#262626" stroke="#262626" stroke-width="0.22">1.5</text>
<text transform="translate(282.26,208.00) scale(1.2,1)" font-family='"Liberation Sans", Arial, Helvetica, sans-serif' font-size="10" font-weight="normal" text-anchor="start" fill="#262626" stroke="#262626" stroke-width="0.22">2</text>
<text transform="translate(128.60,13.70) scale(1.1561,1)" font-family='"Liberation Sans", Arial, Helvetica, sans-serif' font-size="11.3" font-weight="bold" text-anchor="start" fill="#262626">Raw Signal</text>
<text transform="translate(149.80,224.30) scale(1.1636,1)" font-family='"Liberation Sans", Arial, Helvetica, sans-serif' font-size="11" font-weight="normal" text-anchor="start" fill="#262626" stroke="#262626" stroke-width="0.22">Time</text>
<text transform="translate(14.50,140.70) rotate(-90) scale(1.0334,1)" font-family='"Liberation Sans", Arial, Helvetica, sans-serif' font-size="12.4" font-weight="normal" text-anchor="start" fill="#262626" stroke="#262626" stroke-width="0.22">Acceleration</text>
<text transform="translate(181.70,246.00) scale(1.1164,1)" font-family='"Liberation Serif", "Times New Roman", serif' font-size="16.2" fill="#111" stroke="#111" stroke-width="0.1"><tspan font-size="14.6" dy="-1.1">(</tspan><tspan dy="1.1">a</tspan><tspan font-size="14.6" dy="-1.1">)</tspan></text>
<clipPath id="cb"><rect x="439.4" y="18.4" width="224.10000000000002" height="160.7"/></clipPath>
<polyline points="439.40,162.82 439.67,134.39 439.94,133.93 440.21,162.35 440.48,100.36 440.75,151.92 441.02,137.63 441.29,119.50 441.56,132.09 441.83,134.00 442.10,143.62 442.37,159.99 442.64,144.98 442.91,145.73 443.18,144.07 443.45,129.86 443.73,103.57 444.00,121.07 444.27,151.41 444.54,147.85 444.81,151.77 445.08,166.63 445.35,121.06 445.62,167.91 445.89,145.16 446.16,151.21 446.43,170.15 446.70,153.68 446.97,159.21 447.24,152.27 447.51,145.62 447.78,168.79 448.05,150.69 448.32,147.86 448.59,137.45 448.86,162.41 449.13,134.82 449.40,159.68 449.67,118.77 449.94,151.45 450.21,145.92 450.48,125.25 450.75,156.20 451.02,150.69 451.29,134.13 451.56,122.99 451.83,162.45 452.11,137.92 452.38,110.64 452.65,170.62 452.92,123.92 453.19,144.05 453.46,161.31 453.73,123.79 454.00,164.38 454.27,136.67 454.54,123.38 454.81,164.30 455.08,159.63 455.35,124.25 455.62,143.45 455.89,160.39 456.16,149.19 456.43,133.37 456.70,148.60 456.97,128.04 457.24,152.66 457.51,127.91 457.78,145.84 458.05,153.66 458.32,167.88 458.59,132.32 458.86,127.36 459.13,153.54 459.40,158.34 459.67,160.46 459.94,164.64 460.22,143.70 460.49,157.36 460.76,141.15 461.03,141.92 461.30,141.25 461.57,134.34 461.84,140.56 462.11,140.40 462.38,146.71 462.65,164.11 462.92,122.59 463.19,120.46 463.46,147.46 463.73,129.13 464.00,132.21 464.27,147.13 464.54,98.75 464.81,151.42 465.08,173.74 465.35,142.05 465.62,134.95 465.89,133.46 466.16,159.89 466.43,163.77 466.70,176.50 466.97,148.87 467.24,104.54 467.51,150.42 467.78,163.91 468.05,138.67 468.32,160.83 468.60,132.29 468.87,151.09 469.14,119.93 469.41,119.52 469.68,160.97 469.95,137.81 470.22,165.89 470.49,139.84 470.76,124.93 471.03,147.25 471.30,156.76 471.57,123.80 471.84,127.16 472.11,150.74 472.38,152.24 472.65,136.92 472.92,156.54 473.19,166.19 473.46,155.45 473.73,156.15 474.00,157.33 474.27,155.54 474.54,133.93 474.81,140.23 475.08,136.74 475.35,154.30 475.62,145.64 475.89,157.85 476.16,118.46 476.43,137.61 476.70,95.70 476.98,126.35 477.25,158.95 477.52,148.10 477.79,167.13 478.06,118.74 478.33,140.09 478.60,46.04 478.87,140.07 479.14,167.32 479.41,160.55 479.68,162.57 479.95,160.14 480.22,134.04 480.49,115.67 480.76,161.62 481.03,161.71 481.30,144.74 481.57,78.18 481.84,112.41 482.11,114.63 482.38,157.93 482.65,138.44 482.92,121.98 483.19,129.30 483.46,101.96 483.73,154.11 484.00,135.23 484.27,135.84 484.54,147.91 484.81,136.37 485.09,106.14 485.36,143.41 485.63,144.12 485.90,133.48 486.17,158.83 486.44,138.75 486.71,167.57 486.98,160.19 487.25,133.99 487.52,133.95 487.79,166.28 488.06,168.72 488.33,118.25 488.60,160.16 488.87,172.97 489.14,128.18 489.41,142.62 489.68,127.29 489.95,118.75 490.22,146.44 490.49,156.97 490.76,122.50 491.03,147.25 491.30,145.91 491.57,152.62 491.84,155.69 492.11,146.71 492.38,164.72 492.65,105.34 492.92,120.06 493.19,170.75 493.47,134.23 493.74,161.17 494.01,125.77 494.28,169.20 494.55,155.26 494.82,95.70 495.09,121.57 495.36,148.99 495.63,118.91 495.90,163.34 496.17,132.04 496.44,120.14 496.71,143.60 496.98,136.83 497.25,140.24 497.52,162.52 497.79,130.94 498.06,150.39 498.33,93.93 498.60,115.15 498.87,148.63 499.14,122.09 499.41,83.48 499.68,149.67 499.95,159.03 500.22,143.84 500.49,163.48 500.76,135.77 501.03,141.80 501.30,118.47 501.57,146.58 501.85,166.27 502.12,146.12 502.39,145.64 502.66,118.53 502.93,136.16 503.20,152.59 503.47,117.36 503.74,120.40 504.01,174.11 504.28,139.79 504.55,148.94 504.82,153.58 505.09,160.21 505.36,159.98 505.63,153.19 505.90,148.14 506.17,142.29 506.44,158.61 506.71,120.32 506.98,121.81 507.25,152.05 507.52,120.71 507.79,142.07 508.06,133.06 508.33,139.03 508.60,157.14 508.87,130.59 509.14,156.24 509.41,97.95 509.68,142.55 509.96,162.42 510.23,167.47 510.50,104.54 510.77,171.54 511.04,133.58 511.31,166.76 511.58,152.50 511.85,132.61 512.12,164.88 512.39,133.17 512.66,156.07 512.93,162.82 513.20,164.00 513.47,150.91 513.74,146.79 514.01,139.25 514.28,166.56 514.55,146.12 514.82,119.74 515.09,166.49 515.36,158.75 515.63,153.39 515.90,149.79 516.17,119.94 516.44,146.83 516.71,162.30 516.98,133.14 517.25,164.45 517.52,147.48 517.79,154.03 518.06,168.44 518.34,164.32 518.61,143.92 518.88,134.89 519.15,115.50 519.42,120.62 519.69,156.83 519.96,134.85 520.23,143.97 520.50,137.38 520.77,116.87 521.04,139.81 521.31,119.55 521.58,137.68 521.85,157.07 522.12,151.12 522.39,102.12 522.66,117.31 522.93,120.85 523.20,116.26 523.47,120.40 523.74,138.60 524.01,150.88 524.28,136.07 524.55,127.20 524.82,143.39 525.09,135.04 525.36,126.11 525.63,148.85 525.90,131.69 526.17,117.55 526.44,119.02 526.72,147.64 526.99,146.59 527.26,162.39 527.53,134.54 527.80,134.31 528.07,141.03 528.34,149.36 528.61,152.90 528.88,139.88 529.15,141.51 529.42,121.91 529.69,174.52 529.96,119.46 530.23,125.67 530.50,118.63 530.77,147.41 531.04,149.48 531.31,120.97 531.58,148.74 531.85,153.71 532.12,136.23 532.39,120.47 532.66,148.57 532.93,148.81 533.20,143.35 533.47,127.18 533.74,143.36 534.01,138.86 534.28,165.27 534.55,154.27 534.82,148.39 535.10,111.61 535.37,120.09 535.64,172.12 535.91,153.04 536.18,162.23 536.45,126.09 536.72,127.14 536.99,171.94 537.26,125.75 537.53,147.21 537.80,158.81 538.07,162.12 538.34,126.93 538.61,120.68 538.88,128.82 539.15,125.14 539.42,133.65 539.69,132.88 539.96,152.58 540.23,140.50 540.50,162.51 540.77,173.04 541.04,150.52 541.31,152.89 541.58,102.12 541.85,138.75 542.12,162.86 542.39,125.77 542.66,160.19 542.93,157.58 543.21,150.13 543.48,127.20 543.75,140.30 544.02,152.67 544.29,119.26 544.56,156.87 544.83,121.20 545.10,150.92 545.37,123.33 545.64,125.08 545.91,148.67 546.18,140.58 546.45,158.01 546.72,141.19 546.99,146.83 547.26,118.41 547.53,158.22 547.80,146.94 548.07,134.15 548.34,141.24 548.61,137.76 548.88,151.75 549.15,140.20 549.42,129.24 549.69,129.27 549.96,172.48 550.23,119.28 550.50,144.82 550.77,131.59 551.04,129.52 551.31,150.11 551.59,91.68 551.86,129.73 552.13,138.45 552.40,163.11 552.67,162.23 552.94,125.32 553.21,150.70 553.48,155.62 553.75,150.19 554.02,146.68 554.29,140.27 554.56,145.38 554.83,121.34 555.10,165.60 555.37,162.66 555.64,112.63 555.91,151.23 556.18,156.37 556.45,107.59 556.72,162.32 556.99,154.64 557.26,160.65 557.53,161.78 557.80,137.72 558.07,145.27 558.34,137.56 558.61,150.45 558.88,155.39 559.15,127.16 559.42,164.21 559.69,128.94 559.97,117.68 560.24,120.71 560.51,141.28 560.78,155.24 561.05,135.97 561.32,161.29 561.59,120.35 561.86,169.36 562.13,151.05 562.40,125.04 562.67,127.06 562.94,142.56 563.21,160.55 563.48,166.06 563.75,129.90 564.02,140.08 564.29,154.31 564.56,173.76 564.83,121.11 565.10,142.06 565.37,154.90 565.64,137.13 565.91,156.59 566.18,171.82 566.45,133.22 566.72,158.36 566.99,153.81 567.26,126.28 567.53,147.44 567.80,120.88 568.08,145.89 568.35,147.77 568.62,160.03 568.89,137.91 569.16,155.04 569.43,161.78 569.70,100.36 569.97,144.04 570.24,153.15 570.51,136.91 570.78,154.68 571.05,152.06 571.32,142.64 571.59,161.50 571.86,157.86 572.13,126.49 572.40,150.87 572.67,114.27 572.94,155.91 573.21,148.97 573.48,135.00 573.75,156.18 574.02,150.26 574.29,158.62 574.56,96.18 574.83,130.64 575.10,160.30 575.37,115.19 575.64,146.15 575.91,131.14 576.18,143.64 576.46,107.11 576.73,154.57 577.00,140.65 577.27,164.41 577.54,120.04 577.81,123.98 578.08,127.16 578.35,166.65 578.62,127.94 578.89,118.21 579.16,163.04 579.43,150.30 579.70,120.97 579.97,107.11 580.24,151.93 580.51,146.11 580.78,151.87 581.05,156.45 581.32,126.62 581.59,123.44 581.86,154.52 582.13,163.62 582.40,145.24 582.67,166.87 582.94,170.85 583.21,104.54 583.48,128.87 583.75,150.41 584.02,128.74 584.29,129.92 584.56,165.36 584.84,125.68 585.11,121.28 585.38,143.57 585.65,142.45 585.92,127.73 586.19,121.14 586.46,156.38 586.73,138.41 587.00,159.80 587.27,165.16 587.54,143.86 587.81,128.44 588.08,122.44 588.35,146.42 588.62,152.49 588.89,119.94 589.16,158.40 589.43,134.11 589.70,150.93 589.97,141.94 590.24,157.26 590.51,120.32 590.78,148.62 591.05,136.68 591.32,147.10 591.59,141.20 591.86,166.07 592.13,149.57 592.40,102.12 592.67,138.37 592.94,150.42 593.22,118.78 593.49,118.85 593.76,154.66 594.03,152.78 594.30,137.60 594.57,129.30 594.84,136.91 595.11,138.65 595.38,170.01 595.65,129.35 595.92,171.43 596.19,145.09 596.46,103.57 596.73,150.11 597.00,159.47 597.27,157.48 597.54,127.17 597.81,146.78 598.08,167.56 598.35,144.87 598.62,164.98 598.89,139.12 599.16,159.13 599.43,118.09 599.70,137.60 599.97,159.19 600.24,156.64 600.51,127.22 600.78,107.91 601.05,136.67 601.33,120.46 601.60,170.14 601.87,149.90 602.14,145.91 602.41,145.99 602.68,169.83 602.95,125.56 603.22,144.52 603.49,156.97 603.76,161.44 604.03,141.64 604.30,140.36 604.57,146.03 604.84,136.59 605.11,133.03 605.38,121.41 605.65,144.69 605.92,147.87 606.19,126.68 606.46,146.38 606.73,152.22 607.00,137.57 607.27,137.55 607.54,152.57 607.81,139.90 608.08,158.07 608.35,142.69 608.62,152.44 608.89,160.03 609.16,120.99 609.43,146.17 609.71,128.95 609.98,156.26 610.25,140.63 610.52,148.96 610.79,118.59 611.06,167.66 611.33,132.05 611.60,146.68 611.87,142.45 612.14,170.66 612.41,139.42 612.68,146.63 612.95,127.19 613.22,131.79 613.49,114.42 613.76,162.75 614.03,114.21 614.30,129.32 614.57,126.07 614.84,120.81 615.11,163.00 615.38,102.61 615.65,146.56 615.92,148.36 616.19,122.56 616.46,115.04 616.73,138.28 617.00,130.61 617.27,155.24 617.54,162.08 617.81,136.38 618.09,154.00 618.36,164.46 618.63,135.94 618.90,168.34 619.17,137.23 619.44,157.01 619.71,162.46 619.98,162.36 620.25,152.90 620.52,128.40 620.79,169.75 621.06,171.61 621.33,152.90 621.60,137.41 621.87,134.90 622.14,163.20 622.41,169.57 622.68,144.26 622.95,139.40 623.22,102.12 623.49,118.54 623.76,131.78 624.03,117.32 624.30,169.36 624.57,136.29 624.84,126.28 625.11,118.40 625.38,129.25 625.65,143.43 625.92,152.79 626.20,120.24 626.47,156.22 626.74,169.80 627.01,140.39 627.28,157.60 627.55,120.89 627.82,172.47 628.09,164.26 628.36,127.55 628.63,114.72 628.90,145.39 629.17,151.76 629.44,169.45 629.71,174.77 629.98,98.75 630.25,135.56 630.52,162.99 630.79,168.06 631.06,123.47 631.33,160.85 631.60,142.33 631.87,119.30 632.14,152.60 632.41,89.59 632.68,134.12 632.95,149.97 633.22,166.23 633.49,119.92 633.76,119.79 634.03,152.51 634.30,123.67 634.58,142.14 634.85,168.66 635.12,147.39 635.39,124.13 635.66,144.64 635.93,154.44 636.20,161.42 636.47,131.69 636.74,164.78 637.01,151.46 637.28,121.96 637.55,141.12 637.82,120.41 638.09,154.50 638.36,117.09 638.63,122.03 638.90,162.80 639.17,169.72 639.44,150.26 639.71,148.63 639.98,150.65 640.25,170.05 640.52,141.98 640.79,160.42 641.06,119.72 641.33,155.37 641.60,172.42 641.87,118.55 642.14,147.21 642.41,164.84 642.68,119.11 642.96,143.32 643.23,110.96 643.50,164.00 643.77,171.23 644.04,138.66 644.31,152.33 644.58,158.01 644.85,134.08 645.12,159.40 645.39,130.64 645.66,165.06 645.93,151.17 646.20,162.27 646.47,164.44 646.74,141.20 647.01,129.63 647.28,141.07 647.55,161.23 647.82,131.02 648.09,150.22 648.36,135.40 648.63,128.33 648.90,144.27 649.17,144.60 649.44,145.75 649.71,167.16 649.98,169.14 650.25,136.98 650.52,159.47 650.79,143.00 651.07,131.61 651.34,146.15 651.61,147.16 651.88,127.58 652.15,156.27 652.42,136.92 652.69,153.61 652.96,152.31 653.23,139.63 653.50,122.06 653.77,131.18 654.04,144.16 654.31,129.12 654.58,112.09 654.85,134.65 655.12,167.74 655.39,121.09 655.66,134.53 655.93,145.29 656.20,120.46 656.47,156.79 656.74,118.25 657.01,142.60 657.28,140.84 657.55,163.19 657.82,165.25 658.09,134.38 658.36,132.59 658.63,132.04 658.90,123.27 659.17,145.02 659.45,98.75 659.72,132.06 659.99,129.44 660.26,117.44 660.53,144.06 660.80,171.81 661.07,141.23 661.34,146.81 661.61,145.59 661.88,139.09 662.15,136.32 662.42,157.52 662.69,147.55 662.96,126.59 663.23,88.63 663.50,145.22" fill="none" stroke="#0d70bb" stroke-width="0.68" stroke-linejoin="round" clip-path="url(#cb)"/>
<rect x="439.5" y="18.5" width="224.0" height="161.0" fill="none" stroke="#4a4a4a" stroke-width="1"/>
<path d="M439.5 179.5v-2.6M439.5 18.5v2.6M493.5 179.5v-2.6M493.5 18.5v2.6M547.5 179.5v-2.6M547.5 18.5v2.6M601.5 179.5v-2.6M601.5 18.5v2.6M655.5 179.5v-2.6M655.5 18.5v2.6M439.5 179.5h2.6M663.5 179.5h-2.6M439.5 146.5h2.6M663.5 146.5h-2.6M439.5 114.5h2.6M663.5 114.5h-2.6M439.5 82.5h2.6M663.5 82.5h-2.6M439.5 50.5h2.6M663.5 50.5h-2.6M439.5 18.5h2.6M663.5 18.5h-2.6" stroke="#4a4a4a" stroke-width="1" fill="none"/>
<text transform="translate(430.01,184.30) scale(1.13,1)" font-family='"Liberation Sans", Arial, Helvetica, sans-serif' font-size="10" font-weight="normal" text-anchor="start" fill="#262626" stroke="#262626" stroke-width="0.22">0</text>
<text transform="translate(420.62,152.16) scale(1.13,1)" font-family='"Liberation Sans", Arial, Helvetica, sans-serif' font-size="10" font-weight="normal" text-anchor="start" fill="#262626" stroke="#262626" stroke-width="0.22">0.2</text>
<text transform="translate(420.62,120.02) scale(1.13,1)" font-family='"Liberation Sans", Arial, Helvetica, sans-serif' font-size="10" font-weight="normal" text-anchor="start" fill="#262626" stroke="#262626" stroke-width="0.22">0.4</text>
<text transform="translate(420.62,87.88) scale(1.13,1)" font-family='"Liberation Sans", Arial, Helvetica, sans-serif' font-size="10" font-weight="normal" text-anchor="start" fill="#262626" stroke="#262626" stroke-width="0.22">0.6</text>
<text transform="translate(420.62,55.74) scale(1.13,1)" font-family='"Liberation Sans", Arial, Helvetica, sans-serif' font-size="10" font-weight="normal" text-anchor="start" fill="#262626" stroke="#262626" stroke-width="0.22">0.8</text>
<text transform="translate(430.01,23.60) scale(1.13,1)" font-family='"Liberation Sans", Arial, Helvetica, sans-serif' font-size="10" font-weight="normal" text-anchor="start" fill="#262626" stroke="#262626" stroke-width="0.22">1</text>
<text transform="translate(436.31,195.00) scale(1.13,1)" font-family='"Liberation Sans", Arial, Helvetica, sans-serif' font-size="10" font-weight="normal" text-anchor="start" fill="#262626" stroke="#262626" stroke-width="0.22">0</text>
<text transform="translate(484.02,195.00) scale(1.13,1)" font-family='"Liberation Sans", Arial, Helvetica, sans-serif' font-size="10" font-weight="normal" text-anchor="start" fill="#262626" stroke="#262626" stroke-width="0.22">200</text>
<text transform="translate(538.02,195.00) scale(1.13,1)" font-family='"Liberation Sans", Arial, Helvetica, sans-serif' font-size="10" font-weight="normal" text-anchor="start" fill="#262626" stroke="#262626" stroke-width="0.22">400</text>
<text transform="translate(592.02,195.00) scale(1.13,1)" font-family='"Liberation Sans", Arial, Helvetica, sans-serif' font-size="10" font-weight="normal" text-anchor="start" fill="#262626" stroke="#262626" stroke-width="0.22">600</text>
<text transform="translate(646.02,195.00) scale(1.13,1)" font-family='"Liberation Sans", Arial, Helvetica, sans-serif' font-size="10" font-weight="normal" text-anchor="start" fill="#262626" stroke="#262626" stroke-width="0.22">800</text>
<text transform="translate(471.20,13.20) scale(1.0981,1)" font-family='"Liberation Sans", Arial, Helvetica, sans-serif' font-size="11" font-weight="bold" text-anchor="start" fill="#262626">Env. Spectrum (Raw Signal)</text>
<text transform="translate(440.50,15.50) scale(0.998,1)" font-family='"Liberation Sans", Arial, Helvetica, sans-serif' font-size="10.9" font-weight="normal" text-anchor="start" fill="#484848" stroke="#484848" stroke-width="0.22">×10</text>
<text transform="translate(459.80,11.00) scale(1.0897,1)" font-family='"Liberation Sans", Arial, Helvetica, sans-serif' font-size="8.2" font-weight="normal" text-anchor="start" fill="#484848" stroke="#484848" stroke-width="0.22">-3</text>
<text transform="translate(510.00,209.20) scale(1.1273,1)" font-family='"Liberation Sans", Arial, Helvetica, sans-serif' font-size="10.7" font-weight="normal" text-anchor="start" fill="#262626" stroke="#262626" stroke-width="0.22">Frequency (Hz)</text>
<text transform="translate(415.20,124.60) rotate(-90) scale(1.0196,1)" font-family='"Liberation Sans", Arial, Helvetica, sans-serif' font-size="11.3" font-weight="normal" text-anchor="start" fill="#262626" stroke="#262626" stroke-width="0.22">Amplitude</text>
<text transform="translate(490.60,47.40) scale(0.9497,1)" font-family='"Liberation Serif", "Times New Roman", serif' font-size="15.5" font-weight="normal" text-anchor="start" fill="#111" stroke="#111" stroke-width="0.1">BPFO</text>
<text transform="translate(582.90,246.20) scale(1.1099,1)" font-family='"Liberation Serif", "Times New Roman", serif' font-size="16.2" fill="#111" stroke="#111" stroke-width="0.1"><tspan font-size="14.6" dy="-1.1">(</tspan><tspan dy="1.1">b</tspan><tspan font-size="14.6" dy="-1.1">)</tspan></text>
<clipPath id="cc"><rect x="39.6" y="271.1" width="233.6" height="159.0"/></clipPath>
<polyline points="39.75,365.31 39.75,334.61 40.05,342.58 40.05,355.50 40.35,360.84 40.35,341.02 40.65,342.56 40.65,356.76 40.95,363.67 40.95,339.29 41.25,345.06 41.25,356.85 41.55,358.13 41.55,343.33 41.85,319.27 41.85,390.80 42.15,357.13 42.15,336.40 42.45,341.83 42.45,357.16 42.75,355.64 42.75,342.03 43.05,340.71 43.05,359.78 43.35,386.47 43.35,316.24 43.65,325.17 43.65,377.01 43.95,358.17 43.95,338.82 44.25,332.70 44.25,362.05 44.55,359.46 44.55,345.71 44.85,332.27 44.85,364.22 45.15,358.05 45.15,343.20 45.45,310.94 45.45,390.07 45.75,362.01 45.75,341.58 46.05,336.08 46.05,363.40 46.35,356.78 46.35,340.97 46.65,339.60 46.65,355.46 46.95,359.04 46.95,343.31 47.25,337.95 47.25,361.60 47.55,358.07 47.55,342.79 47.85,342.65 47.85,358.11 48.15,377.90 48.15,325.74 48.45,342.49 48.45,359.03 48.75,359.63 48.75,342.95 49.05,342.39 49.05,357.17 49.35,362.32 49.35,343.61 49.65,344.71 49.65,362.42 49.95,403.78 49.95,309.24 50.25,319.09 50.25,387.65 50.55,357.17 50.55,341.53 50.85,333.55 50.85,359.10 51.15,359.30 51.15,342.26 51.45,337.64 51.45,365.03 51.75,358.50 51.75,341.70 52.05,339.67 52.05,360.04 52.35,360.61 52.35,336.08 52.65,339.40 52.65,359.06 52.95,401.59 52.95,309.52 53.25,344.76 53.25,358.92 53.55,363.24 53.55,344.34 53.85,342.93 53.85,359.28 54.15,358.32 54.15,338.94 54.45,314.13 54.45,395.31 54.75,364.19 54.75,332.39 55.05,341.04 55.05,359.53 55.35,366.99 55.35,342.87 55.65,340.05 55.65,356.82 55.95,358.72 55.95,343.09 56.25,340.19 56.25,360.32 56.55,356.57 56.55,346.51 56.85,337.46 56.85,360.98 57.15,390.69 57.15,314.65 57.45,330.78 57.45,360.64 57.75,358.76 57.75,345.47 58.05,340.23 58.05,365.05 58.35,358.43 58.35,342.35 58.65,339.76 58.65,356.32 58.95,360.38 58.95,338.39 59.25,334.06 59.25,366.38 59.55,374.21 59.55,318.81 59.85,330.89 59.85,365.36 60.15,356.71 60.15,343.22 60.45,342.60 60.45,358.54 60.75,357.24 60.75,338.04 61.05,342.44 61.05,359.05 61.35,367.82 61.35,335.84 61.65,341.89 61.65,361.37 61.95,363.26 61.95,327.72 62.25,340.97 62.25,357.26 62.55,370.62 62.55,307.40 62.85,340.76 62.85,358.87 63.15,365.72 63.15,329.65 63.45,339.05 63.45,362.38 63.75,361.84 63.75,340.47 64.05,342.84 64.05,357.25 64.35,369.38 64.35,342.47 64.65,341.60 64.65,363.61 64.95,390.31 64.95,303.69 65.25,333.63 65.25,358.12 65.55,359.08 65.55,339.79 65.85,340.72 65.85,365.61 66.15,360.87 66.15,340.02 66.45,344.54 66.45,355.22 66.75,390.57 66.75,319.51 67.05,343.28 67.05,364.02 67.35,356.96 67.35,337.14 67.65,340.00 67.65,377.72 67.95,359.28 67.95,336.13 68.25,338.24 68.25,362.22 68.55,356.24 68.55,343.76 68.85,334.56 68.85,364.31 69.15,360.07 69.15,339.01 69.45,342.37 69.45,360.01 69.75,366.60 69.75,331.76 70.05,320.32 70.05,384.86 70.35,366.94 70.35,342.80 70.65,345.76 70.65,359.35 70.95,366.62 70.95,334.72 71.25,334.80 71.25,360.63 71.55,359.89 71.55,343.58 71.85,342.29 71.85,359.93 72.15,359.85 72.15,344.48 72.45,314.15 72.45,393.27 72.75,364.69 72.75,341.99 73.05,344.22 73.05,359.67 73.35,360.54 73.35,342.73 73.65,345.82 73.65,359.74 73.95,418.97 73.95,284.57 74.25,340.39 74.25,356.81 74.55,362.73 74.55,335.31 74.85,318.38 74.85,383.41 75.15,364.86 75.15,338.82 75.45,339.31 75.45,360.68 75.75,365.00 75.75,341.49 76.05,344.07 76.05,360.69 76.35,362.74 76.35,332.82 76.65,340.57 76.65,362.34 76.95,359.26 76.95,342.89 77.25,344.15 77.25,359.13 77.55,356.87 77.55,343.31 77.85,325.79 77.85,380.75 78.15,362.42 78.15,341.92 78.45,341.23 78.45,362.53 78.75,359.49 78.75,342.82 79.05,335.58 79.05,368.13 79.35,356.44 79.35,343.27 79.65,339.72 79.65,366.12 79.95,356.64 79.95,342.67 80.25,317.45 80.25,387.21 80.55,361.98 80.55,341.22 80.85,338.19 80.85,373.85 81.15,362.23 81.15,342.03 81.45,339.68 81.45,358.93 81.75,365.47 81.75,341.21 82.05,342.73 82.05,355.37 82.35,368.72 82.35,339.36 82.65,327.81 82.65,377.92 82.95,361.36 82.95,335.90 83.25,339.63 83.25,358.14 83.55,364.81 83.55,328.54 83.85,342.61 83.85,360.04 84.15,360.29 84.15,341.63 84.45,330.70 84.45,362.46 84.75,375.55 84.75,327.32 85.05,338.31 85.05,359.30 85.35,361.82 85.35,339.83 85.65,337.31 85.65,357.70 85.95,358.11 85.95,342.36 86.25,342.75 86.25,358.98 86.55,386.15 86.55,317.11 86.85,340.03 86.85,362.41 87.15,357.58 87.15,339.01 87.45,334.32 87.45,375.47 87.75,357.21 87.75,342.75 88.05,339.06 88.05,358.35 88.35,364.69 88.35,335.45 88.65,312.16 88.65,393.76 88.95,360.59 88.95,341.07 89.25,338.76 89.25,369.38 89.55,360.28 89.55,341.75 89.85,335.15 89.85,369.10 90.15,357.63 90.15,344.28 90.45,343.75 90.45,362.62 90.75,380.90 90.75,303.00 91.05,325.77 91.05,383.52 91.35,360.04 91.35,340.52 91.65,342.87 91.65,355.56 91.95,358.11 91.95,337.01 92.25,340.79 92.25,358.19 92.55,362.42 92.55,340.56 92.85,337.18 92.85,356.67 93.15,390.76 93.15,305.84 93.45,336.22 93.45,362.85 93.75,365.07 93.75,323.09 94.05,344.01 94.05,355.50 94.35,359.21 94.35,340.57 94.65,336.98 94.65,369.52 94.95,359.30 94.95,337.75 95.25,342.91 95.25,363.91 95.55,388.31 95.55,316.18 95.85,338.13 95.85,365.51 96.15,361.97 96.15,340.78 96.45,330.98 96.45,360.54 96.75,361.61 96.75,343.66 97.05,338.28 97.05,360.60 97.35,359.42 97.35,343.95 97.65,323.38 97.65,376.21 97.95,370.98 97.95,313.68 98.25,341.03 98.25,358.88 98.55,376.63 98.55,335.79 98.85,342.13 98.85,357.29 99.15,359.38 99.15,337.76 99.45,338.78 99.45,361.06 99.75,360.62 99.75,332.02 100.05,319.75 100.05,389.32 100.35,360.08 100.35,342.77 100.65,342.21 100.65,360.37 100.95,363.13 100.95,334.82 101.25,343.92 101.25,357.08 101.55,409.43 101.55,294.95 101.85,344.08 101.85,357.66 102.15,358.87 102.15,340.15 102.45,334.77 102.45,361.21 102.75,387.91 102.75,309.04 103.05,336.05 103.05,363.61 103.35,360.01 103.35,341.58 103.65,327.73 103.65,369.25 103.95,357.89 103.95,341.56 104.25,343.30 104.25,364.71 104.55,378.97 104.55,317.23 104.85,340.40 104.85,358.13 105.15,360.18 105.15,344.30 105.45,340.65 105.45,361.16 105.75,359.08 105.75,341.51 106.05,330.69 106.05,361.39 106.35,358.53 106.35,343.82 106.65,325.74 106.65,385.73 106.95,363.67 106.95,335.50 107.25,341.87 107.25,357.73 107.55,358.14 107.55,339.82 107.85,341.72 107.85,358.50 108.15,359.92 108.15,337.51 108.45,342.35 108.45,360.77 108.75,361.16 108.75,337.49 109.05,330.91 109.05,369.68 109.35,367.42 109.35,338.67 109.65,340.02 109.65,356.74 109.95,360.71 109.95,341.59 110.25,342.68 110.25,360.12 110.55,361.72 110.55,343.37 110.85,338.90 110.85,359.68 111.15,356.31 111.15,343.19 111.45,342.42 111.45,361.69 111.75,360.35 111.75,345.16 112.05,310.46 112.05,391.94 112.35,359.23 112.35,342.64 112.65,342.69 112.65,363.28 112.95,358.52 112.95,341.59 113.25,344.80 113.25,358.14 113.55,360.25 113.55,340.03 113.85,343.80 113.85,355.99 114.15,362.53 114.15,338.58 114.45,319.11 114.45,394.38 114.75,369.61 114.75,328.96 115.05,330.49 115.05,359.41 115.35,358.99 115.35,340.44 115.65,339.75 115.65,370.66 115.95,357.86 115.95,344.27 116.25,332.97 116.25,361.28 116.55,358.63 116.55,344.14 116.85,326.68 116.85,381.54 117.15,359.58 117.15,338.53 117.45,342.83 117.45,355.52 117.75,367.60 117.75,338.71 118.05,340.43 118.05,357.58 118.35,360.92 118.35,339.67 118.65,342.33 118.65,363.81 118.95,368.50 118.95,345.09 119.25,337.47 119.25,366.20 119.55,383.72 119.55,314.78 119.85,337.68 119.85,369.83 120.15,359.64 120.15,340.17 120.45,339.59 120.45,359.50 120.75,361.05 120.75,346.11 121.05,339.05 121.05,360.13 121.35,361.41 121.35,343.36 121.65,341.52 121.65,357.18 121.95,361.15 121.95,342.96 122.25,342.06 122.25,358.17 122.55,387.95 122.55,324.54 122.85,344.64 122.85,356.66 123.15,360.69 123.15,338.75 123.45,343.74 123.45,359.19 123.75,358.34 123.75,341.37 124.05,339.18 124.05,360.42 124.35,356.04 124.35,342.12 124.65,333.54 124.65,358.61 124.95,360.48 124.95,343.06 125.25,317.45 125.25,379.01 125.55,359.34 125.55,344.06 125.85,335.27 125.85,359.02 126.15,358.42 126.15,344.80 126.45,340.77 126.45,358.89 126.75,386.98 126.75,324.82 127.05,344.97 127.05,362.13 127.35,358.75 127.35,341.68 127.65,343.05 127.65,357.17 127.95,365.31 127.95,329.18 128.25,332.71 128.25,363.25 128.55,357.08 128.55,343.87 128.85,337.73 128.85,361.50 129.15,357.98 129.15,343.53 129.45,337.82 129.45,366.56 129.75,393.82 129.75,306.69 130.05,344.28 130.05,367.72 130.35,365.07 130.35,334.54 130.65,346.26 130.65,360.96 130.95,362.86 130.95,340.45 131.25,340.11 131.25,356.78 131.55,361.09 131.55,343.02 131.85,338.44 131.85,357.88 132.15,385.52 132.15,326.66 132.45,334.44 132.45,356.25 132.75,359.16 132.75,340.78 133.05,341.70 133.05,365.82 133.35,362.42 133.35,344.98 133.65,339.68 133.65,356.24 133.95,393.56 133.95,313.83 134.25,327.10 134.25,384.56 134.55,358.94 134.55,345.35 134.85,344.16 134.85,356.27 135.15,371.38 135.15,331.87 135.45,337.47 135.45,358.73 135.75,385.25 135.75,327.01 136.05,327.64 136.05,383.87 136.35,359.53 136.35,341.53 136.65,342.04 136.65,357.78 136.95,364.46 136.95,328.91 137.25,345.38 137.25,356.02 137.55,369.44 137.55,332.38 137.85,314.87 137.85,392.19 138.15,357.61 138.15,343.56 138.45,343.29 138.45,358.34 138.75,365.71 138.75,341.84 139.05,344.30 139.05,358.79 139.35,360.79 139.35,337.00 139.65,343.52 139.65,360.88 139.95,362.59 139.95,337.46 140.25,331.99 140.25,373.47 140.55,357.83 140.55,344.49 140.85,340.42 140.85,364.36 141.15,359.49 141.15,343.67 141.45,343.60 141.45,359.58 141.75,361.29 141.75,338.13 142.05,327.70 142.05,363.85 142.35,358.53 142.35,341.07 142.65,345.33 142.65,358.23 142.95,361.68 142.95,341.36 143.25,322.93 143.25,375.78 143.55,366.40 143.55,327.05 143.85,342.84 143.85,359.13 144.15,358.29 144.15,343.97 144.45,334.48 144.45,360.08 144.75,355.81 144.75,342.19 145.05,340.86 145.05,364.45 145.35,359.37 145.35,341.38 145.65,341.41 145.65,357.48 145.95,360.39 145.95,342.00 146.25,326.05 146.25,374.43 146.55,360.85 146.55,344.19 146.85,345.38 146.85,357.06 147.15,357.70 147.15,341.37 147.45,342.80 147.45,355.45 147.75,368.76 147.75,340.36 148.05,343.26 148.05,357.26 148.35,357.96 148.35,341.97 148.65,315.61 148.65,381.51 148.95,359.01 148.95,336.78 149.25,345.47 149.25,361.68 149.55,358.41 149.55,342.01 149.85,334.18 149.85,358.76 150.15,361.92 150.15,343.50 150.45,340.53 150.45,360.64 150.75,357.09 150.75,341.49 151.05,342.29 151.05,361.54 151.35,378.63 151.35,331.42 151.65,345.48 151.65,358.16 151.95,358.86 151.95,343.03 152.25,343.13 152.25,360.05 152.55,360.65 152.55,341.56 152.85,341.26 152.85,372.61 153.15,420.56 153.15,280.85 153.45,322.91 153.45,386.51 153.75,373.22 153.75,328.72 154.05,345.51 154.05,356.75 154.35,360.58 154.35,343.60 154.65,343.53 154.65,358.98 154.95,361.64 154.95,341.72 155.25,339.59 155.25,356.61 155.55,360.41 155.55,332.69 155.85,321.06 155.85,385.10 156.15,358.30 156.15,341.75 156.45,343.18 156.45,359.54 156.75,363.84 156.75,340.32 157.05,343.70 157.05,362.61 157.35,362.24 157.35,336.12 157.65,344.21 157.65,361.78 157.95,364.90 157.95,339.77 158.25,340.38 158.25,361.16 158.55,360.89 158.55,338.52 158.85,312.58 158.85,392.11 159.15,359.34 159.15,340.71 159.45,327.47 159.45,362.27 159.75,356.26 159.75,342.83 160.05,327.44 160.05,359.16 160.35,363.27 160.35,340.70 160.65,335.52 160.65,360.37 160.95,358.24 160.95,345.16 161.25,320.05 161.25,386.03 161.55,356.69 161.55,343.02 161.85,344.19 161.85,364.39 162.15,356.69 162.15,339.74 162.45,338.88 162.45,361.81 162.75,358.41 162.75,346.42 163.05,339.69 163.05,361.79 163.35,357.23 163.35,344.21 163.65,323.69 163.65,383.05 163.95,372.27 163.95,331.16 164.25,346.08 164.25,359.59 164.55,357.36 164.55,341.94 164.85,344.82 164.85,360.10 165.15,361.38 165.15,332.81 165.45,341.18 165.45,362.70 165.75,358.54 165.75,343.44 166.05,324.31 166.05,359.39 166.35,379.97 166.35,320.09 166.65,340.82 166.65,357.32 166.95,357.47 166.95,338.79 167.25,335.37 167.25,369.08 167.55,357.63 167.55,344.61 167.85,327.86 167.85,365.26 168.15,358.64 168.15,342.97 168.45,341.00 168.45,361.58 168.75,391.78 168.75,316.53 169.05,320.97 169.05,365.25 169.35,363.16 169.35,343.99 169.65,342.50 169.65,358.22 169.95,360.27 169.95,343.39 170.25,337.74 170.25,360.69 170.55,357.74 170.55,341.16 170.85,338.78 170.85,360.72 171.15,366.23 171.15,342.19 171.45,341.49 171.45,358.82 171.75,377.84 171.75,311.43 172.05,335.31 172.05,366.93 172.35,359.30 172.35,336.10 172.65,339.08 172.65,358.95 172.95,360.38 172.95,336.69 173.25,342.98 173.25,356.11 173.55,355.43 173.55,337.91 173.85,343.29 173.85,359.12 174.15,382.78 174.15,317.12 174.45,344.07 174.45,358.52 174.75,359.44 174.75,340.22 175.05,343.89 175.05,360.27 175.35,360.67 175.35,340.50 175.65,343.30 175.65,362.76 175.95,361.13 175.95,338.21 176.25,342.63 176.25,359.67 176.55,360.82 176.55,340.02 176.85,343.57 176.85,358.02 177.15,387.06 177.15,309.71 177.45,343.76 177.45,357.34 177.75,366.60 177.75,332.10 178.05,339.00 178.05,365.07 178.35,357.90 178.35,342.05 178.65,334.39 178.65,374.38 178.95,360.05 178.95,333.30 179.25,338.83 179.25,356.92 179.55,357.11 179.55,347.63 179.85,309.65 179.85,390.28 180.15,358.60 180.15,344.17 180.45,336.35 180.45,362.24 180.75,357.29 180.75,344.30 181.05,343.14 181.05,368.89 181.35,356.63 181.35,344.56 181.65,339.89 181.65,369.76 181.95,359.55 181.95,342.32 182.25,342.45 182.25,357.65 182.55,375.17 182.55,324.80 182.85,337.23 182.85,367.96 183.15,357.71 183.15,344.59 183.45,332.59 183.45,374.86 183.75,365.13 183.75,345.90 184.05,344.39 184.05,359.55 184.35,369.24 184.35,337.73 184.65,342.01 184.65,361.22 184.95,377.29 184.95,321.68 185.25,332.66 185.25,373.90 185.55,355.71 185.55,335.71 185.85,344.96 185.85,358.34 186.15,357.64 186.15,345.91 186.45,338.03 186.45,360.67 186.75,356.86 186.75,340.57 187.05,344.32 187.05,362.00 187.35,387.18 187.35,323.49 187.65,341.83 187.65,356.72 187.95,359.27 187.95,339.96 188.25,343.60 188.25,360.56 188.55,357.51 188.55,339.70 188.85,338.35 188.85,375.45 189.15,360.42 189.15,342.70 189.45,310.24 189.45,384.15 189.75,365.34 189.75,337.21 190.05,343.22 190.05,369.63 190.35,363.08 190.35,342.25 190.65,338.57 190.65,366.86 190.95,361.98 190.95,344.26 191.25,338.63 191.25,363.53 191.55,360.39 191.55,342.25 191.85,343.26 191.85,371.37 192.15,357.51 192.15,344.46 192.45,318.16 192.45,380.92 192.75,358.11 192.75,346.71 193.05,344.83 193.05,360.23 193.35,358.94 193.35,341.79 193.65,343.20 193.65,357.07 193.95,361.96 193.95,340.38 194.25,344.64 194.25,358.14 194.55,367.94 194.55,333.10 194.85,340.71 194.85,358.72 195.15,379.66 195.15,320.62 195.45,338.32 195.45,363.96 195.75,364.90 195.75,327.91 196.05,343.17 196.05,359.03 196.35,358.10 196.35,341.80 196.65,346.35 196.65,360.85 196.95,357.97 196.95,343.40 197.25,328.61 197.25,382.63 197.55,357.62 197.55,341.88 197.85,337.63 197.85,368.36 198.15,356.51 198.15,341.24 198.45,341.04 198.45,361.50 198.75,360.47 198.75,338.79 199.05,328.71 199.05,359.17 199.35,359.39 199.35,338.32 199.65,310.49 199.65,388.47 199.95,368.07 199.95,329.29 200.25,337.89 200.25,357.00 200.55,362.28 200.55,334.90 200.85,340.85 200.85,357.20 201.15,366.43 201.15,342.89 201.45,343.77 201.45,363.86 201.75,370.30 201.75,330.00 202.05,305.38 202.05,392.26 202.35,369.08 202.35,343.01 202.65,343.78 202.65,358.33 202.95,361.64 202.95,341.39 203.25,343.88 203.25,357.48 203.55,360.26 203.55,340.85 203.85,345.58 203.85,356.83 204.15,375.34 204.15,343.86 204.45,342.73 204.45,356.38 204.75,379.37 204.75,319.30 205.05,291.77 205.05,403.07 205.35,365.66 205.35,327.51 205.65,343.67 205.65,360.86 205.95,361.57 205.95,340.22 206.25,337.01 206.25,363.42 206.55,361.95 206.55,345.59 206.85,317.74 206.85,374.93 207.15,360.84 207.15,338.70 207.45,332.20 207.45,365.54 207.75,363.48 207.75,341.11 208.05,339.31 208.05,357.77 208.35,356.53 208.35,341.92 208.65,342.90 208.65,359.71 208.95,381.28 208.95,315.00 209.25,337.17 209.25,360.86 209.55,364.88 209.55,340.90 209.85,341.33 209.85,358.41 210.15,359.85 210.15,338.89 210.45,338.39 210.45,361.43 210.75,359.03 210.75,343.48 211.05,340.78 211.05,356.80 211.35,377.07 211.35,317.40 211.65,344.10 211.65,359.80 211.95,370.04 211.95,327.90 212.25,342.48 212.25,356.10 212.55,372.89 212.55,333.65 212.85,341.10 212.85,357.31 213.15,359.68 213.15,344.73 213.45,324.80 213.45,375.69 213.75,360.59 213.75,344.21 214.05,328.35 214.05,373.38 214.35,361.81 214.35,341.85 214.65,342.46 214.65,361.24 214.95,366.36 214.95,344.57 215.25,341.04 215.25,358.25 215.55,385.80 215.55,311.32 215.85,335.62 215.85,370.07 216.15,359.51 216.15,331.38 216.45,339.64 216.45,357.36 216.75,360.47 216.75,340.49 217.05,340.42 217.05,368.79 217.35,357.23 217.35,340.92 217.65,301.97 217.65,387.44 217.95,379.08 217.95,326.29 218.25,342.63 218.25,360.83 218.55,365.89 218.55,338.40 218.85,341.39 218.85,356.98 219.15,358.95 219.15,341.23 219.45,341.50 219.45,362.88 219.75,366.75 219.75,333.08 220.05,343.66 220.05,357.25 220.35,382.47 220.35,324.31 220.65,341.82 220.65,360.60 220.95,364.34 220.95,339.93 221.25,343.94 221.25,357.71 221.55,369.23 221.55,344.90 221.85,342.63 221.85,361.73 222.15,369.51 222.15,337.67 222.45,339.14 222.45,362.62 222.75,382.41 222.75,320.14 223.05,343.22 223.05,359.66 223.35,362.69 223.35,344.37 223.65,341.74 223.65,359.35 223.95,360.18 223.95,343.22 224.25,308.59 224.25,385.27 224.55,363.00 224.55,343.95 224.85,335.38 224.85,365.13 225.15,357.72 225.15,346.01 225.45,333.44 225.45,363.62 225.75,360.59 225.75,343.96 226.05,338.78 226.05,356.81 226.35,355.99 226.35,342.04 226.65,329.49 226.65,367.19 226.95,358.62 226.95,347.09 227.25,332.91 227.25,380.32 227.55,359.14 227.55,342.02 227.85,336.46 227.85,361.54 228.15,360.85 228.15,346.62 228.45,344.77 228.45,360.24 228.75,369.07 228.75,340.72 229.05,343.24 229.05,361.24 229.35,388.06 229.35,315.09 229.65,338.17 229.65,357.33 229.95,363.67 229.95,325.30 230.25,342.18 230.25,361.01 230.55,414.06 230.55,283.82 230.85,343.88 230.85,357.62 231.15,361.02 231.15,337.39 231.45,343.38 231.45,356.65 231.75,366.18 231.75,343.30 232.05,310.19 232.05,386.80 232.35,363.41 232.35,337.25 232.65,342.47 232.65,355.48 232.95,356.47 232.95,334.03 233.25,340.33 233.25,360.99 233.55,357.45 233.55,342.79 233.85,334.35 233.85,360.32 234.15,356.05 234.15,343.74 234.45,313.17 234.45,392.73 234.75,358.30 234.75,341.21 235.05,344.45 235.05,363.17 235.35,357.45 235.35,343.22 235.65,342.07 235.65,361.71 235.95,357.38 235.95,342.95 236.25,332.23 236.25,370.83 236.55,359.28 236.55,341.70 236.85,337.15 236.85,359.79 237.15,356.56 237.15,344.47 237.45,314.92 237.45,381.11 237.75,358.82 237.75,341.33 238.05,339.22 238.05,363.09 238.35,357.13 238.35,339.13 238.65,334.58 238.65,368.00 238.95,357.33 238.95,340.03 239.25,341.18 239.25,358.67 239.55,371.12 239.55,325.57 239.85,314.28 239.85,385.14 240.15,357.50 240.15,340.99 240.45,341.78 240.45,359.64 240.75,360.24 240.75,324.75 241.05,343.48 241.05,362.76 241.35,360.43 241.35,332.40 241.65,345.15 241.65,358.56 241.95,368.02 241.95,333.37 242.25,304.96 242.25,383.99 242.55,359.43 242.55,339.35 242.85,340.18 242.85,363.07 243.15,363.22 243.15,340.00 243.45,342.05 243.45,360.15 243.75,363.59 243.75,341.75 244.05,341.87 244.05,359.39 244.35,376.89 244.35,326.98 244.65,326.41 244.65,370.47 244.95,364.71 244.95,335.05 245.25,343.47 245.25,356.99 245.55,357.88 245.55,340.47 245.85,340.86 245.85,356.02 246.15,357.51 246.15,346.35 246.45,338.89 246.45,357.25 246.75,396.77 246.75,297.78 247.05,327.70 247.05,358.48 247.35,358.16 247.35,343.31 247.65,329.33 247.65,360.73 247.95,359.77 247.95,342.32 248.25,334.10 248.25,365.64 248.55,393.30 248.55,307.27 248.85,334.93 248.85,370.13 249.15,366.89 249.15,339.52 249.45,343.71 249.45,359.40 249.75,372.37 249.75,339.47 250.05,342.59 250.05,356.84 250.35,365.87 250.35,338.81 250.65,343.07 250.65,358.98 250.95,358.31 250.95,333.34 251.25,342.08 251.25,363.28 251.55,380.58 251.55,321.86 251.85,339.80 251.85,363.85 252.15,358.21 252.15,344.84 252.45,339.63 252.45,358.19 252.75,357.73 252.75,342.79 253.05,341.57 253.05,370.56 253.35,357.08 253.35,344.28 253.65,339.20 253.65,358.32 253.95,356.79 253.95,342.15 254.25,313.22 254.25,389.08 254.55,365.94 254.55,333.67 254.85,343.30 254.85,360.43 255.15,357.39 255.15,344.69 255.45,341.07 255.45,360.11 255.75,363.93 255.75,341.84 256.05,339.96 256.05,360.16 256.35,357.20 256.35,334.49 256.65,340.28 256.65,365.46 256.95,405.94 256.95,285.41 257.25,339.57 257.25,357.39 257.55,355.73 257.55,342.72 257.85,341.34 257.85,355.45 258.15,358.59 258.15,342.01 258.45,334.04 258.45,358.23 258.75,356.94 258.75,341.72 259.05,323.82 259.05,379.15 259.35,366.97 259.35,331.77 259.65,324.08 259.65,366.19 259.95,358.95 259.95,342.72 260.25,336.97 260.25,357.26 260.55,357.45 260.55,342.85 260.85,341.05 260.85,360.80 261.15,359.32 261.15,341.06 261.45,340.49 261.45,357.00 261.75,380.63 261.75,323.04 262.05,337.51 262.05,362.52 262.35,359.66 262.35,342.87 262.65,338.49 262.65,360.11 262.95,359.08 262.95,341.95 263.25,345.18 263.25,363.05 263.55,386.42 263.55,321.29 263.85,343.50 263.85,359.63 264.15,361.05 264.15,342.31 264.45,344.43 264.45,368.44 264.75,358.03 264.75,340.14 265.05,331.94 265.05,367.70 265.35,357.02 265.35,335.70 265.65,314.07 265.65,358.92 265.95,382.83 265.95,325.85 266.25,342.89 266.25,358.74 266.55,356.52 266.55,342.90 266.85,339.33 266.85,356.71 267.15,359.45 267.15,341.12 267.45,343.66 267.45,355.41" fill="none" stroke="#1670b1" stroke-width="0.5" stroke-linejoin="round" clip-path="url(#cc)"/>
<polygon points="39.60,342.56 40.60,342.56 40.60,343.86 41.60,343.86 41.60,341.83 42.60,341.83 42.60,340.71 43.60,340.71 43.60,344.80 44.60,344.80 44.60,343.20 45.60,343.20 45.60,341.58 46.60,341.58 46.60,342.79 47.60,342.79 47.60,342.65 48.60,342.65 48.60,343.61 49.60,343.61 49.60,341.53 50.60,341.53 50.60,342.26 51.60,342.26 51.60,341.70 52.60,341.70 52.60,344.34 53.60,344.34 53.60,342.93 54.60,342.93 54.60,341.43 55.60,341.43 55.60,343.09 56.60,343.09 56.60,337.46 57.60,337.46 57.60,343.65 58.60,343.65 58.60,339.76 59.60,339.76 59.60,342.60 60.60,342.60 60.60,342.44 61.60,342.44 61.60,340.97 62.60,340.97 62.60,339.05 63.60,339.05 63.60,342.47 64.60,342.47 64.60,339.79 65.60,339.79 65.60,341.75 66.60,341.75 66.60,342.58 67.60,342.58 67.60,340.00 68.60,340.00 68.60,342.37 69.60,342.37 69.60,342.80 70.60,342.80 70.60,343.58 71.60,343.58 71.60,343.80 72.60,343.80 72.60,344.22 73.60,344.22 73.60,340.39 74.60,340.39 74.60,339.31 75.60,339.31 75.60,341.49 76.60,341.49 76.60,343.98 77.60,343.98 77.60,341.92 78.60,341.92 78.60,343.27 79.60,343.27 79.60,341.22 80.60,341.22 80.60,342.03 81.60,342.03 81.60,342.73 82.60,342.73 82.60,335.90 83.60,335.90 83.60,341.63 84.60,341.63 84.60,338.31 85.60,338.31 85.60,342.75 86.60,342.75 86.60,340.03 87.60,340.03 87.60,339.06 88.60,339.06 88.60,341.07 89.60,341.07 89.60,343.75 90.60,343.75 90.60,340.52 91.60,340.52 91.60,343.48 92.60,343.48 92.60,337.18 93.60,337.18 93.60,340.57 94.60,340.57 94.60,340.81 95.60,340.81 95.60,340.78 96.60,340.78 96.60,343.66 97.60,343.66 97.60,335.79 98.60,335.79 98.60,342.13 99.60,342.13 99.60,342.21 100.60,342.21 100.60,343.68 101.60,343.68 101.60,344.08 102.60,344.08 102.60,340.60 103.60,340.60 103.60,341.56 104.60,341.56 104.60,340.65 105.60,340.65 105.60,341.51 106.60,341.51 106.60,339.82 107.60,339.82 107.60,342.35 108.60,342.35 108.60,338.67 109.60,338.67 109.60,344.32 110.60,344.32 110.60,343.19 111.60,343.19 111.60,345.16 112.60,345.16 112.60,342.69 113.60,342.69 113.60,343.80 114.60,343.80 114.60,339.75 115.60,339.75 115.60,344.14 116.60,344.14 116.60,342.83 117.60,342.83 117.60,340.43 118.60,340.43 118.60,344.22 119.60,344.22 119.60,339.59 120.60,339.59 120.60,343.36 121.60,343.36 121.60,342.96 122.60,342.96 122.60,343.74 123.60,343.74 123.60,341.37 124.60,341.37 124.60,343.06 125.60,343.06 125.60,344.69 126.60,344.69 126.60,344.97 127.60,344.97 127.60,343.05 128.60,343.05 128.60,343.53 129.60,343.53 129.60,344.28 130.60,344.28 130.60,343.02 131.60,343.02 131.60,338.44 132.60,338.44 132.60,344.98 133.60,344.98 133.60,339.68 134.60,339.68 134.60,344.16 135.60,344.16 135.60,341.53 136.60,341.53 136.60,342.04 137.60,342.04 137.60,343.29 138.60,343.29 138.60,344.30 139.60,344.30 139.60,343.52 140.60,343.52 140.60,343.67 141.60,343.67 141.60,341.07 142.60,341.07 142.60,341.76 143.60,341.76 143.60,342.84 144.60,342.84 144.60,342.19 145.60,342.19 145.60,342.00 146.60,342.00 146.60,345.38 147.60,345.38 147.60,341.97 148.60,341.97 148.60,342.01 149.60,342.01 149.60,342.04 150.60,342.04 150.60,342.29 151.60,342.29 151.60,343.13 152.60,343.13 152.60,341.26 153.60,341.26 153.60,343.60 154.60,343.60 154.60,341.72 155.60,341.72 155.60,343.16 156.60,343.16 156.60,343.70 157.60,343.70 157.60,340.38 158.60,340.38 158.60,340.71 159.60,340.71 159.60,342.83 160.60,342.83 160.60,343.24 161.60,343.24 161.60,343.02 162.60,343.02 162.60,344.21 163.60,344.21 163.60,343.74 164.60,343.74 164.60,341.94 165.60,341.94 165.60,340.82 166.60,340.82 166.60,343.49 167.60,343.49 167.60,342.97 168.60,342.97 168.60,343.62 169.60,343.62 169.60,343.39 170.60,343.39 170.60,341.49 171.60,341.49 171.60,336.10 172.60,336.10 172.60,339.08 173.60,339.08 173.60,343.89 174.60,343.89 174.60,343.89 175.60,343.89 175.60,342.63 176.60,342.63 176.60,343.76 177.60,343.76 177.60,339.00 178.60,339.00 178.60,340.52 179.60,340.52 179.60,344.17 180.60,344.17 180.60,344.56 181.60,344.56 181.60,342.32 182.60,342.32 182.60,337.23 183.60,337.23 183.60,344.39 184.60,344.39 184.60,343.49 185.60,343.49 185.60,344.96 186.60,344.96 186.60,341.83 187.60,341.83 187.60,342.75 188.60,342.75 188.60,342.70 189.60,342.70 189.60,342.82 190.60,342.82 190.60,344.26 191.60,344.26 191.60,343.26 192.60,343.26 192.60,344.83 193.60,344.83 193.60,343.36 194.60,343.36 194.60,340.71 195.60,340.71 195.60,343.17 196.60,343.17 196.60,343.40 197.60,343.40 197.60,341.24 198.60,341.24 198.60,338.79 199.60,338.79 199.60,334.90 200.60,334.90 200.60,342.98 201.60,342.98 201.60,343.01 202.60,343.01 202.60,343.87 203.60,343.87 203.60,343.86 204.60,343.86 204.60,327.51 205.60,327.51 205.60,345.59 206.60,345.59 206.60,338.70 207.60,338.70 207.60,341.92 208.60,341.92 208.60,342.90 209.60,342.90 209.60,340.90 210.60,340.90 210.60,343.48 211.60,343.48 211.60,342.48 212.60,342.48 212.60,341.10 213.60,341.10 213.60,342.46 214.60,342.46 214.60,344.57 215.60,344.57 215.60,335.62 216.60,335.62 216.60,340.92 217.60,340.92 217.60,338.40 218.60,338.40 218.60,341.50 219.60,341.50 219.60,341.82 220.60,341.82 220.60,344.60 221.60,344.60 221.60,342.63 222.60,342.63 222.60,343.22 223.60,343.22 223.60,344.10 224.60,344.10 224.60,343.95 225.60,343.95 225.60,343.96 226.60,343.96 226.60,343.63 227.60,343.63 227.60,344.77 228.60,344.77 228.60,340.72 229.60,340.72 229.60,342.18 230.60,342.18 230.60,343.38 231.60,343.38 231.60,343.14 232.60,343.14 232.60,342.47 233.60,342.47 233.60,342.81 234.60,342.81 234.60,343.22 235.60,343.22 235.60,342.21 236.60,342.21 236.60,344.47 237.60,344.47 237.60,341.33 238.60,341.33 238.60,340.03 239.60,340.03 239.60,341.78 240.60,341.78 240.60,343.48 241.60,343.48 241.60,339.35 242.60,339.35 242.60,342.05 243.60,342.05 243.60,341.75 244.60,341.75 244.60,342.42 245.60,342.42 245.60,343.06 246.60,343.06 246.60,343.31 247.60,343.31 247.60,341.91 248.60,341.91 248.60,339.52 249.60,339.52 249.60,342.59 250.60,342.59 250.60,342.08 251.60,342.08 251.60,344.84 252.60,344.84 252.60,344.28 253.60,344.28 253.60,339.20 254.60,339.20 254.60,343.82 255.60,343.82 255.60,341.84 256.60,341.84 256.60,340.28 257.60,340.28 257.60,342.01 258.60,342.01 258.60,331.77 259.60,331.77 259.60,342.85 260.60,342.85 260.60,341.06 261.60,341.06 261.60,342.87 262.60,342.87 262.60,341.95 263.60,341.95 263.60,343.50 264.60,343.50 264.60,340.14 265.60,340.14 265.60,342.89 266.60,342.89 266.60,343.66 267.35,343.66 267.35,355.41 266.60,355.41 266.60,358.62 265.60,358.62 265.60,358.03 264.60,358.03 264.60,361.05 263.60,361.05 263.60,359.08 262.60,359.08 262.60,360.11 261.60,360.11 261.60,357.00 260.60,357.00 260.60,357.45 259.60,357.45 259.60,366.19 258.60,366.19 258.60,355.45 257.60,355.45 257.60,355.79 256.60,355.79 256.60,360.16 255.60,360.16 255.60,357.39 254.60,357.39 254.60,356.93 253.60,356.93 253.60,357.73 252.60,357.73 252.60,358.19 251.60,358.19 251.60,358.31 250.60,358.31 250.60,358.98 249.60,358.98 249.60,366.89 248.60,366.89 248.60,359.77 247.60,359.77 247.60,358.16 246.60,358.16 246.60,356.02 245.60,356.02 245.60,357.88 244.60,357.88 244.60,363.59 243.60,363.59 243.60,360.15 242.60,360.15 242.60,358.56 241.60,358.56 241.60,360.24 240.60,360.24 240.60,357.52 239.60,357.52 239.60,358.67 238.60,358.67 238.60,357.13 237.60,357.13 237.60,359.28 236.60,359.28 236.60,358.24 235.60,358.24 235.60,358.30 234.60,358.30 234.60,356.05 233.60,356.05 233.60,356.47 232.60,356.47 232.60,363.41 231.60,363.41 231.60,357.62 230.60,357.62 230.60,361.01 229.60,361.01 229.60,361.24 228.60,361.24 228.60,360.24 227.60,360.24 227.60,358.62 226.60,358.62 226.60,356.81 225.60,356.81 225.60,357.72 224.60,357.72 224.60,360.18 223.60,360.18 223.60,359.66 222.60,359.66 222.60,361.73 221.60,361.73 221.60,358.23 220.60,358.23 220.60,360.60 219.60,360.60 219.60,356.98 218.60,356.98 218.60,365.89 217.60,365.89 217.60,358.15 216.60,358.15 216.60,359.51 215.60,359.51 215.60,358.25 214.60,358.25 214.60,360.59 213.60,360.59 213.60,359.66 212.60,359.66 212.60,359.60 211.60,359.60 211.60,359.03 210.60,359.03 210.60,358.41 209.60,358.41 209.60,360.86 208.60,360.86 208.60,356.63 207.60,356.63 207.60,360.84 206.60,360.84 206.60,361.57 205.60,361.57 205.60,365.66 204.60,365.66 204.60,356.83 203.60,356.83 203.60,358.33 202.60,358.33 202.60,369.08 201.60,369.08 201.60,357.20 200.60,357.20 200.60,362.28 199.60,362.28 199.60,359.17 198.60,359.17 198.60,356.51 197.60,356.51 197.60,357.89 196.60,357.89 196.60,359.03 195.60,359.03 195.60,358.72 194.60,358.72 194.60,358.14 193.60,358.14 193.60,358.11 192.60,358.11 192.60,359.19 191.60,359.19 191.60,361.98 190.60,361.98 190.60,363.08 189.60,363.08 189.60,360.42 188.60,360.42 188.60,357.51 187.60,357.51 187.60,356.86 186.60,356.86 186.60,357.64 185.60,357.64 185.60,361.22 184.60,361.22 184.60,359.81 183.60,359.81 183.60,367.96 182.60,367.96 182.60,359.55 181.60,359.55 181.60,357.29 180.60,357.29 180.60,358.60 179.60,358.60 179.60,357.11 178.60,357.11 178.60,365.07 177.60,365.07 177.60,358.02 176.60,358.02 176.60,360.82 175.60,360.82 175.60,359.44 174.60,359.44 174.60,358.52 173.60,358.52 173.60,356.11 172.60,356.11 172.60,359.30 171.60,359.30 171.60,358.82 170.60,358.82 170.60,358.22 169.60,358.22 169.60,363.16 168.60,363.16 168.60,358.64 167.60,358.64 167.60,357.47 166.60,357.47 166.60,358.54 165.60,358.54 165.60,360.10 164.60,360.10 164.60,359.59 163.60,359.59 163.60,358.41 162.60,358.41 162.60,356.69 161.60,356.69 161.60,357.46 160.60,357.46 160.60,359.16 159.60,359.16 159.60,359.34 158.60,359.34 158.60,360.89 157.60,360.89 157.60,362.24 156.60,362.24 156.60,358.30 155.60,358.30 155.60,356.61 154.60,356.61 154.60,358.98 153.60,358.98 153.60,372.61 152.60,372.61 152.60,358.86 151.60,358.86 151.60,357.09 150.60,357.09 150.60,358.76 149.60,358.76 149.60,359.01 148.60,359.01 148.60,357.96 147.60,357.96 147.60,357.06 146.60,357.06 146.60,360.39 145.60,360.39 145.60,355.81 144.60,355.81 144.60,359.13 143.60,359.13 143.60,361.68 142.60,361.68 142.60,358.53 141.60,358.53 141.60,359.49 140.60,359.49 140.60,360.88 139.60,360.88 139.60,358.79 138.60,358.79 138.60,357.61 137.60,357.61 137.60,356.09 136.60,356.09 136.60,359.53 135.60,359.53 135.60,358.55 134.60,358.55 134.60,358.94 133.60,358.94 133.60,359.16 132.60,359.16 132.60,357.88 131.60,357.88 131.60,356.78 130.60,356.78 130.60,365.07 129.60,365.07 129.60,357.98 128.60,357.98 128.60,357.08 127.60,357.08 127.60,358.75 126.60,358.75 126.60,358.42 125.60,358.42 125.60,359.34 124.60,359.34 124.60,358.34 123.60,358.34 123.60,359.19 122.60,359.19 122.60,358.17 121.60,358.17 121.60,360.13 120.60,360.13 120.60,359.64 119.60,359.64 119.60,366.20 118.60,366.20 118.60,360.92 117.60,360.92 117.60,358.39 116.60,358.39 116.60,358.63 115.60,358.63 115.60,358.99 114.60,358.99 114.60,355.99 113.60,355.99 113.60,358.52 112.60,358.52 112.60,359.23 111.60,359.23 111.60,359.68 110.60,359.68 110.60,357.03 109.60,357.03 109.60,361.16 108.60,361.16 108.60,358.50 107.60,358.50 107.60,358.03 106.60,358.03 106.60,359.08 105.60,359.08 105.60,360.18 104.60,360.18 104.60,364.71 103.60,364.71 103.60,360.01 102.60,360.01 102.60,357.66 101.60,357.66 101.60,357.08 100.60,357.08 100.60,360.37 99.60,360.37 99.60,358.93 98.60,358.93 98.60,370.98 97.60,370.98 97.60,359.42 96.60,359.42 96.60,360.54 95.60,360.54 95.60,359.30 94.60,359.30 94.60,359.21 93.60,359.21 93.60,362.42 92.60,362.42 92.60,356.27 91.60,356.27 91.60,360.04 90.60,360.04 90.60,357.63 89.60,357.63 89.60,360.59 88.60,360.59 88.60,358.35 87.60,358.35 87.60,357.63 86.60,357.63 86.60,358.11 85.60,358.11 85.60,359.30 84.60,359.30 84.60,360.04 83.60,360.04 83.60,361.36 82.60,361.36 82.60,357.21 81.60,357.21 81.60,358.93 80.60,358.93 80.60,361.98 79.60,361.98 79.60,356.44 78.60,356.44 78.60,362.42 77.60,362.42 77.60,358.18 76.60,358.18 76.60,362.34 75.60,362.34 75.60,360.68 74.60,360.68 74.60,359.04 73.60,359.04 73.60,359.74 72.60,359.74 72.60,359.89 71.60,359.89 71.60,357.75 70.60,357.75 70.60,366.60 69.60,366.60 69.60,360.01 68.60,360.01 68.60,359.28 67.60,359.28 67.60,356.96 66.60,356.96 66.60,355.88 65.60,355.88 65.60,359.08 64.60,359.08 64.60,361.84 63.60,361.84 63.60,362.38 62.60,362.38 62.60,361.37 61.60,361.37 61.60,357.24 60.60,357.24 60.60,358.54 59.60,358.54 59.60,360.38 58.60,360.38 58.60,358.43 57.60,358.43 57.60,360.64 56.60,360.64 56.60,356.82 55.60,356.82 55.60,359.53 54.60,359.53 54.60,358.32 53.60,358.32 53.60,358.92 52.60,358.92 52.60,359.06 51.60,359.06 51.60,359.10 50.60,359.10 50.60,362.42 49.60,362.42 49.60,357.17 48.60,357.17 48.60,358.11 47.60,358.11 47.60,358.07 46.60,358.07 46.60,356.78 45.60,356.78 45.60,359.46 44.60,359.46 44.60,358.17 43.60,358.17 43.60,359.78 42.60,359.78 42.60,357.16 41.60,357.16 41.60,356.29 40.60,356.29 40.60,356.76 39.60,356.76" fill="#1670b1" clip-path="url(#cc)"/>
<rect x="39.5" y="271.5" width="234.0" height="159.0" fill="none" stroke="#6a6a6a" stroke-width="1"/>
<path d="M39.5 430.5v-2.6M39.5 271.5v2.6M98.5 430.5v-2.6M98.5 271.5v2.6M156.5 430.5v-2.6M156.5 271.5v2.6M214.5 430.5v-2.6M214.5 271.5v2.6M273.5 430.5v-2.6M273.5 271.5v2.6M39.5 271.5h2.6M273.5 271.5h-2.6M39.5 350.5h2.6M273.5 350.5h-2.6M39.5 430.5h2.6M273.5 430.5h-2.6" stroke="#6a6a6a" stroke-width="1" fill="none"/>
<text transform="translate(29.53,275.90) scale(1.2,1)" font-family='"Liberation Sans", Arial, Helvetica, sans-serif' font-size="10" font-weight="normal" text-anchor="start" fill="#262626" stroke="#262626" stroke-width="0.22">5</text>
<text transform="translate(29.53,355.40) scale(1.2,1)" font-family='"Liberation Sans", Arial, Helvetica, sans-serif' font-size="10" font-weight="normal" text-anchor="start" fill="#262626" stroke="#262626" stroke-width="0.22">0</text>
<text transform="translate(25.55,434.90) scale(1.2,1)" font-family='"Liberation Sans", Arial, Helvetica, sans-serif' font-size="10" font-weight="normal" text-anchor="start" fill="#262626" stroke="#262626" stroke-width="0.22">-5</text>
<text transform="translate(36.20,445.60) scale(1.15,1)" font-family='"Liberation Sans", Arial, Helvetica, sans-serif' font-size="10" font-weight="normal" text-anchor="start" fill="#262626" stroke="#262626" stroke-width="0.22">0</text>
<text transform="translate(89.82,445.60) scale(1.15,1)" font-family='"Liberation Sans", Arial, Helvetica, sans-serif' font-size="10" font-weight="normal" text-anchor="start" fill="#262626" stroke="#262626" stroke-width="0.22">0.5</text>
<text transform="translate(153.00,445.60) scale(1.15,1)" font-family='"Liberation Sans", Arial, Helvetica, sans-serif' font-size="10" font-weight="normal" text-anchor="start" fill="#262626" stroke="#262626" stroke-width="0.22">1</text>
<text transform="translate(206.62,445.60) scale(1.15,1)" font-family='"Liberation Sans", Arial, Helvetica, sans-serif' font-size="10" font-weight="normal" text-anchor="start" fill="#262626" stroke="#262626" stroke-width="0.22">1.5</text>
<text transform="translate(269.80,445.60) scale(1.15,1)" font-family='"Liberation Sans", Arial, Helvetica, sans-serif' font-size="10" font-weight="normal" text-anchor="start" fill="#262626" stroke="#262626" stroke-width="0.22">2</text>
<text transform="translate(140.50,265.70) scale(1.1099,1)" font-family='"Liberation Sans", Arial, Helvetica, sans-serif' font-size="10.6" font-weight="bold" text-anchor="start" fill="#262626">IMF-1</text>
<text transform="translate(143.80,459.60) scale(1.093,1)" font-family='"Liberation Sans", Arial, Helvetica, sans-serif' font-size="11" font-weight="normal" text-anchor="start" fill="#262626" stroke="#262626" stroke-width="0.22">Time</text>
<text transform="translate(20.60,382.50) rotate(-90) scale(1.0204,1)" font-family='"Liberation Sans", Arial, Helvetica, sans-serif' font-size="11.4" font-weight="normal" text-anchor="start" fill="#262626" stroke="#262626" stroke-width="0.22">Acceleration</text>
<text transform="translate(182.00,481.40) scale(1.1046,1)" font-family='"Liberation Serif", "Times New Roman", serif' font-size="16.2" fill="#111" stroke="#111" stroke-width="0.1"><tspan font-size="14.6" dy="-1.1">(</tspan><tspan dy="1.1">c</tspan><tspan font-size="14.6" dy="-1.1">)</tspan></text>
<clipPath id="cd"><rect x="441.5" y="270.8" width="237.60000000000002" height="154.95"/></clipPath>
<polyline points="441.50,422.54 441.79,393.70 442.08,407.88 442.37,412.30 442.66,394.00 442.95,417.28 443.24,395.21 443.53,405.77 443.82,378.65 444.11,404.02 444.40,395.94 444.69,394.65 444.98,415.63 445.27,400.55 445.56,418.33 445.85,410.97 446.14,402.35 446.43,413.30 446.72,416.98 447.01,369.66 447.30,401.79 447.59,419.23 447.88,411.86 448.17,402.81 448.46,404.06 448.75,407.58 449.04,396.82 449.33,413.42 449.62,410.02 449.91,412.39 450.20,409.48 450.49,405.42 450.78,403.21 451.07,415.05 451.36,406.57 451.65,396.75 451.94,414.77 452.23,381.28 452.52,402.73 452.81,404.14 453.10,417.99 453.39,416.70 453.68,420.22 453.97,405.93 454.26,401.97 454.55,398.54 454.84,404.63 455.13,390.56 455.42,404.53 455.71,416.63 456.00,406.41 456.29,415.84 456.58,379.57 456.87,420.63 457.16,417.41 457.45,391.73 457.74,409.33 458.03,407.87 458.31,413.94 458.60,417.11 458.89,389.38 459.18,418.60 459.47,392.73 459.76,393.81 460.05,418.29 460.34,413.28 460.63,408.27 460.92,412.65 461.21,407.70 461.50,403.62 461.79,418.36 462.08,401.04 462.37,414.04 462.66,406.56 462.95,403.97 463.24,415.19 463.53,409.89 463.82,411.65 464.11,399.92 464.40,403.82 464.69,409.41 464.98,400.13 465.27,411.01 465.56,403.36 465.85,414.84 466.14,399.67 466.43,409.26 466.72,410.71 467.01,374.31 467.30,403.41 467.59,393.42 467.88,416.46 468.17,422.69 468.46,404.51 468.75,372.60 469.04,414.14 469.33,401.96 469.62,407.28 469.91,416.73 470.20,402.94 470.49,400.35 470.78,286.30 471.07,419.58 471.36,398.43 471.65,418.33 471.94,416.52 472.23,417.10 472.52,372.29 472.81,416.02 473.10,415.43 473.39,404.65 473.68,391.37 473.97,420.15 474.26,398.41 474.55,375.70 474.84,419.21 475.13,415.63 475.42,416.08 475.71,416.67 476.00,401.08 476.29,421.06 476.58,416.22 476.87,410.36 477.16,404.74 477.45,396.52 477.74,411.56 478.03,412.31 478.32,401.37 478.61,405.41 478.90,422.18 479.19,394.72 479.48,405.23 479.77,390.49 480.06,398.68 480.35,408.63 480.64,414.85 480.93,403.66 481.22,390.23 481.51,375.24 481.80,412.44 482.09,403.69 482.38,402.66 482.67,402.58 482.96,407.69 483.25,366.40 483.54,418.92 483.83,402.55 484.12,418.58 484.41,410.84 484.70,415.19 484.99,408.69 485.28,400.61 485.57,391.54 485.86,404.45 486.15,419.24 486.44,417.90 486.73,404.56 487.02,409.92 487.31,399.51 487.60,418.85 487.89,413.80 488.18,365.16 488.47,410.64 488.76,422.82 489.05,406.92 489.34,409.55 489.63,399.38 489.92,397.65 490.21,383.91 490.50,415.55 490.79,406.83 491.08,416.72 491.36,399.41 491.65,414.36 491.94,403.88 492.23,392.80 492.52,421.23 492.81,402.53 493.10,423.10 493.39,394.97 493.68,414.40 493.97,417.56 494.26,416.93 494.55,412.37 494.84,400.93 495.13,401.98 495.42,396.53 495.71,416.61 496.00,416.73 496.29,416.98 496.58,419.56 496.87,415.34 497.16,418.95 497.45,419.00 497.74,416.91 498.03,410.62 498.32,415.29 498.61,404.90 498.90,419.42 499.19,421.38 499.48,421.50 499.77,405.23 500.06,410.28 500.35,295.28 500.64,397.61 500.93,406.67 501.22,409.61 501.51,419.53 501.80,407.23 502.09,404.01 502.38,402.89 502.67,411.91 502.96,417.69 503.25,404.05 503.54,418.96 503.83,400.47 504.12,399.32 504.41,408.66 504.70,416.35 504.99,412.69 505.28,422.21 505.57,377.72 505.86,399.49 506.15,392.83 506.44,411.74 506.73,391.60 507.02,408.62 507.31,405.98 507.60,411.93 507.89,408.89 508.18,374.00 508.47,411.99 508.76,404.33 509.05,419.05 509.34,402.82 509.63,380.35 509.92,409.28 510.21,411.66 510.50,397.14 510.79,398.50 511.08,416.79 511.37,390.40 511.66,391.09 511.95,400.91 512.24,403.56 512.53,385.15 512.82,401.70 513.11,394.69 513.40,405.92 513.69,424.27 513.98,383.91 514.27,417.09 514.56,396.22 514.85,420.80 515.14,418.82 515.43,401.72 515.72,421.11 516.01,408.79 516.30,393.60 516.59,388.11 516.88,403.41 517.17,409.05 517.46,399.17 517.75,399.46 518.04,410.39 518.33,424.02 518.62,399.84 518.91,407.30 519.20,395.82 519.49,411.82 519.78,396.81 520.07,383.91 520.36,408.42 520.65,401.71 520.94,399.58 521.23,405.47 521.52,407.73 521.81,399.60 522.10,414.67 522.39,417.63 522.68,399.70 522.97,403.57 523.26,412.19 523.55,418.18 523.84,395.32 524.13,407.73 524.41,417.45 524.70,398.35 524.99,399.33 525.28,399.43 525.57,418.21 525.86,389.06 526.15,402.86 526.44,406.15 526.73,414.39 527.02,407.71 527.31,408.65 527.60,382.05 527.89,405.47 528.18,418.09 528.47,403.93 528.76,396.54 529.05,403.35 529.34,413.04 529.63,346.34 529.92,408.28 530.21,406.64 530.50,392.05 530.79,412.69 531.08,406.05 531.37,415.66 531.66,396.34 531.95,408.71 532.24,385.15 532.53,417.16 532.82,410.37 533.11,407.97 533.40,398.77 533.69,418.24 533.98,413.11 534.27,413.80 534.56,415.09 534.85,408.41 535.14,398.09 535.43,384.22 535.72,415.16 536.01,405.17 536.30,404.50 536.59,399.22 536.88,420.88 537.17,403.92 537.46,411.74 537.75,416.11 538.04,408.33 538.33,393.68 538.62,412.46 538.91,406.54 539.20,419.26 539.49,365.32 539.78,401.16 540.07,413.34 540.36,420.61 540.65,397.46 540.94,415.77 541.23,414.50 541.52,415.07 541.81,402.43 542.10,410.02 542.39,405.94 542.68,409.24 542.97,416.56 543.26,411.20 543.55,420.17 543.84,398.76 544.13,381.28 544.42,412.56 544.71,410.80 545.00,402.00 545.29,409.08 545.58,410.32 545.87,390.04 546.16,412.85 546.45,413.44 546.74,403.78 547.03,406.80 547.32,406.33 547.61,414.38 547.90,398.01 548.19,413.86 548.48,413.98 548.77,409.61 549.06,417.07 549.35,407.70 549.64,421.93 549.93,416.96 550.22,405.43 550.51,371.67 550.80,423.35 551.09,418.90 551.38,415.09 551.67,394.04 551.96,417.70 552.25,405.20 552.54,400.79 552.83,407.78 553.12,423.09 553.41,403.76 553.70,377.72 553.99,419.38 554.28,400.81 554.57,398.59 554.86,414.46 555.15,396.72 555.44,412.41 555.73,395.53 556.02,412.78 556.31,405.89 556.60,409.90 556.89,413.82 557.18,406.40 557.46,393.53 557.75,394.61 558.04,398.59 558.33,411.50 558.62,357.11 558.91,415.98 559.20,411.29 559.49,416.57 559.78,398.41 560.07,414.35 560.36,409.28 560.65,414.30 560.94,390.54 561.23,379.88 561.52,399.46 561.81,403.09 562.10,414.19 562.39,412.37 562.68,410.49 562.97,406.46 563.26,403.12 563.55,380.81 563.84,400.25 564.13,389.54 564.42,411.69 564.71,413.69 565.00,411.93 565.29,403.48 565.58,410.95 565.87,413.01 566.16,418.36 566.45,401.23 566.74,407.81 567.03,393.18 567.32,376.94 567.61,411.77 567.90,418.94 568.19,402.85 568.48,413.63 568.77,409.07 569.06,417.86 569.35,413.63 569.64,392.03 569.93,411.62 570.22,407.67 570.51,371.21 570.80,416.13 571.09,421.45 571.38,417.11 571.67,422.26 571.96,408.29 572.25,412.10 572.54,409.77 572.83,408.09 573.12,418.04 573.41,405.52 573.70,422.40 573.99,420.04 574.28,422.51 574.57,408.10 574.86,413.05 575.15,412.22 575.44,419.16 575.73,398.34 576.02,419.52 576.31,394.68 576.60,407.50 576.89,418.71 577.18,408.58 577.47,392.46 577.76,405.80 578.05,408.94 578.34,417.40 578.63,420.33 578.92,410.02 579.21,399.15 579.50,417.33 579.79,417.77 580.08,395.72 580.37,411.27 580.66,404.61 580.95,414.66 581.24,421.17 581.53,419.08 581.82,414.16 582.11,421.21 582.40,412.20 582.69,413.88 582.98,418.86 583.27,410.47 583.56,403.87 583.85,402.68 584.14,397.39 584.43,405.40 584.72,398.59 585.01,392.46 585.30,420.48 585.59,395.60 585.88,393.94 586.17,413.51 586.46,363.77 586.75,405.39 587.04,395.62 587.33,406.91 587.62,406.12 587.91,394.27 588.20,413.24 588.49,409.98 588.78,418.19 589.07,416.66 589.36,390.28 589.65,417.32 589.94,403.31 590.23,392.98 590.51,405.69 590.80,389.89 591.09,422.35 591.38,406.06 591.67,397.89 591.96,419.57 592.25,376.94 592.54,408.87 592.83,413.11 593.12,423.34 593.41,414.81 593.70,415.49 593.99,415.04 594.28,418.61 594.57,407.94 594.86,421.75 595.15,412.10 595.44,417.73 595.73,417.19 596.02,416.15 596.31,414.31 596.60,404.38 596.89,409.04 597.18,413.98 597.47,411.53 597.76,403.66 598.05,404.83 598.34,400.69 598.63,417.44 598.92,422.92 599.21,414.10 599.50,407.83 599.79,397.21 600.08,421.20 600.37,418.38 600.66,412.40 600.95,407.24 601.24,421.61 601.53,396.75 601.82,423.11 602.11,394.37 602.40,413.59 602.69,415.19 602.98,413.18 603.27,414.90 603.56,420.76 603.85,417.93 604.14,414.79 604.43,414.71 604.72,415.94 605.01,403.32 605.30,422.56 605.59,397.73 605.88,395.55 606.17,377.87 606.46,409.04 606.75,403.24 607.04,399.36 607.33,400.04 607.62,420.07 607.91,401.70 608.20,413.92 608.49,413.46 608.78,409.31 609.07,407.77 609.36,421.02 609.65,408.02 609.94,419.71 610.23,412.49 610.52,418.42 610.81,420.05 611.10,400.49 611.39,417.67 611.68,405.58 611.97,421.98 612.26,416.48 612.55,417.34 612.84,401.33 613.13,415.02 613.42,393.88 613.71,378.49 614.00,407.29 614.29,401.61 614.58,410.40 614.87,421.29 615.16,395.85 615.45,406.68 615.74,394.04 616.03,413.30 616.32,406.30 616.61,412.75 616.90,392.62 617.19,407.33 617.48,405.20 617.77,410.41 618.06,421.51 618.35,421.95 618.64,401.63 618.93,410.13 619.22,406.44 619.51,404.37 619.80,418.49 620.09,416.49 620.38,372.29 620.67,417.00 620.96,406.65 621.25,418.72 621.54,411.04 621.83,420.68 622.12,394.85 622.41,407.13 622.70,416.14 622.99,417.68 623.28,396.03 623.56,407.39 623.85,416.90 624.14,415.80 624.43,411.08 624.72,423.86 625.01,402.81 625.30,403.57 625.59,413.17 625.88,413.77 626.17,415.53 626.46,412.18 626.75,418.98 627.04,405.41 627.33,410.76 627.62,405.08 627.91,401.94 628.20,418.19 628.49,392.78 628.78,409.04 629.07,405.66 629.36,389.60 629.65,401.21 629.94,405.58 630.23,406.46 630.52,411.95 630.81,404.87 631.10,415.00 631.39,404.02 631.68,404.70 631.97,413.02 632.26,418.87 632.55,414.68 632.84,389.52 633.13,399.93 633.42,410.34 633.71,397.67 634.00,404.67 634.29,409.58 634.58,410.94 634.87,388.53 635.16,405.58 635.45,401.55 635.74,401.24 636.03,403.37 636.32,410.59 636.61,382.67 636.90,410.32 637.19,397.58 637.48,395.75 637.77,406.83 638.06,410.62 638.35,390.34 638.64,414.36 638.93,405.86 639.22,415.93 639.51,383.91 639.80,391.20 640.09,396.72 640.38,403.04 640.67,415.12 640.96,419.25 641.25,408.37 641.54,402.12 641.83,399.59 642.12,400.05 642.41,418.73 642.70,411.02 642.99,397.39 643.28,407.49 643.57,393.27 643.86,419.52 644.15,411.97 644.44,406.51 644.73,417.28 645.02,396.79 645.31,417.81 645.60,408.43 645.89,393.87 646.18,407.94 646.47,403.84 646.76,409.60 647.05,415.79 647.34,404.69 647.63,412.80 647.92,363.31 648.21,400.52 648.50,412.95 648.79,422.02 649.08,411.90 649.37,423.02 649.66,412.50 649.95,392.24 650.24,414.25 650.53,413.35 650.82,413.41 651.11,411.71 651.40,394.07 651.69,410.43 651.98,411.94 652.27,416.41 652.56,390.49 652.85,383.91 653.14,402.20 653.43,407.43 653.72,406.10 654.01,394.20 654.30,417.32 654.59,391.32 654.88,410.98 655.17,410.89 655.46,414.88 655.75,405.86 656.04,404.24 656.33,415.83 656.61,400.12 656.90,422.79 657.19,413.69 657.48,392.30 657.77,399.49 658.06,404.50 658.35,400.87 658.64,391.35 658.93,409.61 659.22,376.94 659.51,396.62 659.80,394.51 660.09,408.88 660.38,408.68 660.67,411.40 660.96,414.44 661.25,404.52 661.54,399.18 661.83,407.93 662.12,404.85 662.41,406.41 662.70,418.89 662.99,408.41 663.28,397.06 663.57,415.54 663.86,419.58 664.15,417.81 664.44,409.66 664.73,404.17 665.02,392.98 665.31,398.39 665.60,416.22 665.89,382.67 666.18,405.09 666.47,419.37 666.76,416.98 667.05,400.24 667.34,420.72 667.63,413.48 667.92,408.68 668.21,416.74 668.50,412.30 668.79,412.71 669.08,416.73 669.37,399.39 669.66,415.86 669.95,408.94 670.24,402.18 670.53,400.66 670.82,411.48 671.11,401.09 671.40,408.16 671.69,407.66 671.98,399.53 672.27,398.65 672.56,398.95 672.85,403.58 673.14,410.01 673.43,420.29 673.72,402.07 674.01,400.69 674.30,417.52 674.59,396.18 674.88,415.46 675.17,410.88 675.46,392.85 675.75,386.80 676.04,399.53 676.33,404.97 676.62,408.63 676.91,408.77 677.20,412.66 677.49,415.54 677.78,400.85 678.07,419.83 678.36,423.56 678.65,421.42 678.94,399.23" fill="none" stroke="#484848" stroke-width="0.6" stroke-linejoin="round" clip-path="url(#cd)"/>
<rect x="441.5" y="270.5" width="238.0" height="155.0" fill="none" stroke="#4a4a4a" stroke-width="1"/>
<path d="M441.5 425.5v-2.6M441.5 270.5v2.6M499.5 425.5v-2.6M499.5 270.5v2.6M557.5 425.5v-2.6M557.5 270.5v2.6M615.5 425.5v-2.6M615.5 270.5v2.6M674.5 425.5v-2.6M674.5 270.5v2.6M441.5 425.5h2.6M679.5 425.5h-2.6M441.5 394.5h2.6M679.5 394.5h-2.6M441.5 363.5h2.6M679.5 363.5h-2.6M441.5 332.5h2.6M679.5 332.5h-2.6M441.5 301.5h2.6M679.5 301.5h-2.6M441.5 270.5h2.6M679.5 270.5h-2.6" stroke="#4a4a4a" stroke-width="1" fill="none"/>
<text transform="translate(431.29,431.05) scale(1.17,1)" font-family='"Liberation Sans", Arial, Helvetica, sans-serif' font-size="10" font-weight="normal" text-anchor="start" fill="#262626" stroke="#262626" stroke-width="0.22">0</text>
<text transform="translate(421.57,400.06) scale(1.17,1)" font-family='"Liberation Sans", Arial, Helvetica, sans-serif' font-size="10" font-weight="normal" text-anchor="start" fill="#262626" stroke="#262626" stroke-width="0.22">0.2</text>
<text transform="translate(421.57,369.07) scale(1.17,1)" font-family='"Liberation Sans", Arial, Helvetica, sans-serif' font-size="10" font-weight="normal" text-anchor="start" fill="#262626" stroke="#262626" stroke-width="0.22">0.4</text>
<text transform="translate(421.57,338.08) scale(1.17,1)" font-family='"Liberation Sans", Arial, Helvetica, sans-serif' font-size="10" font-weight="normal" text-anchor="start" fill="#262626" stroke="#262626" stroke-width="0.22">0.6</text>
<text transform="translate(421.57,307.09) scale(1.17,1)" font-family='"Liberation Sans", Arial, Helvetica, sans-serif' font-size="10" font-weight="normal" text-anchor="start" fill="#262626" stroke="#262626" stroke-width="0.22">0.8</text>
<text transform="translate(431.29,276.10) scale(1.17,1)" font-family='"Liberation Sans", Arial, Helvetica, sans-serif' font-size="10" font-weight="normal" text-anchor="start" fill="#262626" stroke="#262626" stroke-width="0.22">1</text>
<text transform="translate(437.80,440.60) scale(1.15,1)" font-family='"Liberation Sans", Arial, Helvetica, sans-serif' font-size="10" font-weight="normal" text-anchor="start" fill="#262626" stroke="#262626" stroke-width="0.22">0</text>
<text transform="translate(489.56,440.60) scale(1.15,1)" font-family='"Liberation Sans", Arial, Helvetica, sans-serif' font-size="10" font-weight="normal" text-anchor="start" fill="#262626" stroke="#262626" stroke-width="0.22">200</text>
<text transform="translate(547.72,440.60) scale(1.15,1)" font-family='"Liberation Sans", Arial, Helvetica, sans-serif' font-size="10" font-weight="normal" text-anchor="start" fill="#262626" stroke="#262626" stroke-width="0.22">400</text>
<text transform="translate(605.88,440.60) scale(1.15,1)" font-family='"Liberation Sans", Arial, Helvetica, sans-serif' font-size="10" font-weight="normal" text-anchor="start" fill="#262626" stroke="#262626" stroke-width="0.22">600</text>
<text transform="translate(664.04,440.60) scale(1.15,1)" font-family='"Liberation Sans", Arial, Helvetica, sans-serif' font-size="10" font-weight="normal" text-anchor="start" fill="#262626" stroke="#262626" stroke-width="0.22">800</text>
<text transform="translate(493.20,265.80) scale(1.2393,1)" font-family='"Liberation Sans", Arial, Helvetica, sans-serif' font-size="10.3" font-weight="bold" text-anchor="start" fill="#262626">Env. Spectrum (IMF-1)</text>
<text transform="translate(442.90,268.00) scale(1.134,1)" font-family='"Liberation Sans", Arial, Helvetica, sans-serif' font-size="10.5" font-weight="normal" text-anchor="start" fill="#484848" stroke="#484848" stroke-width="0.22">×10</text>
<text transform="translate(463.90,264.10) scale(1.1088,1)" font-family='"Liberation Sans", Arial, Helvetica, sans-serif' font-size="8.0" font-weight="normal" text-anchor="start" fill="#484848" stroke="#484848" stroke-width="0.22">-4</text>
<text transform="translate(516.50,454.70) scale(1.2224,1)" font-family='"Liberation Sans", Arial, Helvetica, sans-serif' font-size="10.4" font-weight="normal" text-anchor="start" fill="#262626" stroke="#262626" stroke-width="0.22">Frequency (Hz)</text>
<text transform="translate(415.40,372.90) rotate(-90) scale(0.9998,1)" font-family='"Liberation Sans", Arial, Helvetica, sans-serif' font-size="11.3" font-weight="normal" text-anchor="start" fill="#262626" stroke="#262626" stroke-width="0.22">Amplitude</text>
<text transform="translate(470.40,286.80) scale(0.9786,1)" font-family='"Liberation Serif", "Times New Roman", serif' font-size="13.3" font-weight="normal" text-anchor="start" fill="#111" stroke="#111" stroke-width="0.1">BPFO</text>
<text transform="translate(518.90,303.40) scale(0.9954,1)" font-family='"Liberation Serif", "Times New Roman", serif' font-size="13.4" font-weight="normal" text-anchor="start" fill="#111" stroke="#111" stroke-width="0.1">2 BPFO</text>
<text transform="translate(547.80,370.80) scale(0.9954,1)" font-family='"Liberation Serif", "Times New Roman", serif' font-size="13.4" font-weight="normal" text-anchor="start" fill="#111" stroke="#111" stroke-width="0.1">3 BPFO</text>
<text transform="translate(583.40,481.30) scale(1.0819,1)" font-family='"Liberation Serif", "Times New Roman", serif' font-size="16.2" fill="#111" stroke="#111" stroke-width="0.1"><tspan font-size="14.6" dy="-1.1">(</tspan><tspan dy="1.1">d</tspan><tspan font-size="14.6" dy="-1.1">)</tspan></text>
</svg></body></html>
